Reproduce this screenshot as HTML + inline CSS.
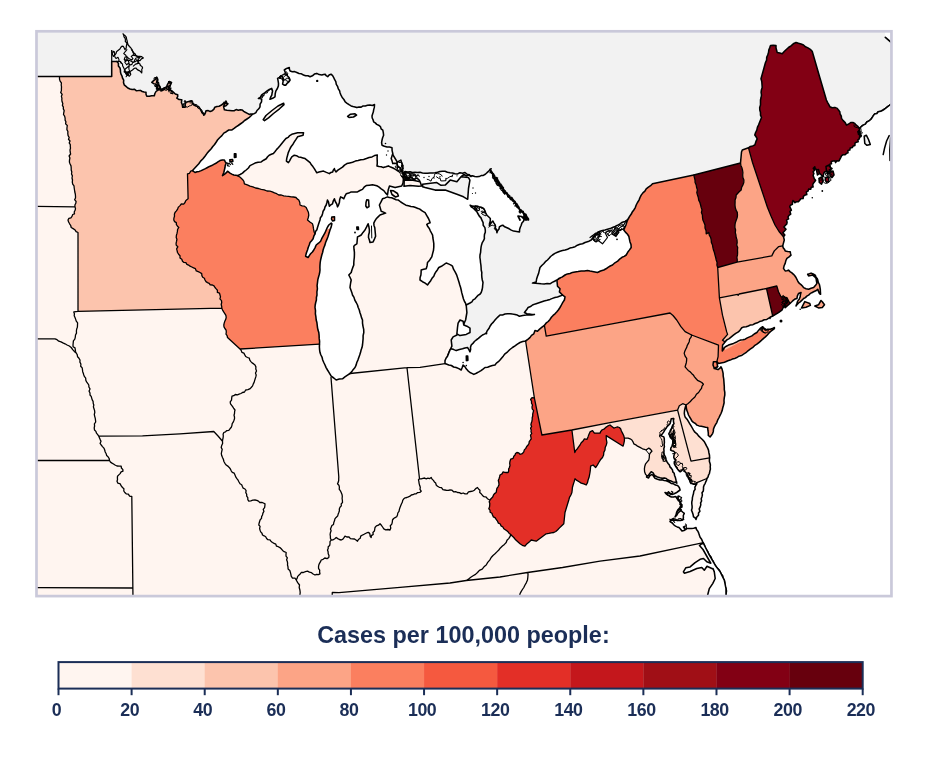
<!DOCTYPE html>
<html lang="en"><head><meta charset="utf-8"><title>Cases per 100,000 people</title>
<style>html,body{margin:0;padding:0;background:#fff}body{width:928px;height:760px;overflow:hidden;position:relative;font-family:"Liberation Sans",sans-serif}svg{position:absolute;left:0;top:0;display:block}.b{fill:none;stroke:#000;stroke-width:1.3;stroke-linejoin:round;stroke-linecap:round}.w{fill:#fff;stroke:#000;stroke-width:1.55;stroke-linejoin:round}.t{font-family:"Liberation Sans",sans-serif;font-weight:700;fill:#1b2e57}</style></head><body>
<svg width="928" height="760" viewBox="0 0 928 760">
<defs><clipPath id="c"><rect x="36.5" y="31.3" width="854.95" height="564.8000000000001"/></clipPath></defs>
<g clip-path="url(#c)">
<rect x="30" y="25" width="870" height="580" fill="#fff5f0"/>
<path id="MN" fill="#fcc4ad" d="M59.5,77 59.5,79.1 60.1,81.1 61.4,82.9 61.2,85 61.5,86.9 61.4,88.8 61.4,90.6 60.7,92.5 62.2,94.3 61.4,96.3 61.9,98.1 61.8,100 62.1,101.8 62.8,103.5 62.4,105.4 63.4,107.1 63.3,108.9 64.2,110.6 63.8,112.5 63.5,114.5 64.6,116.2 65.1,118.1 65.1,120.1 65.9,121.8 65.6,123.9 67.3,125.5 67,127.5 66.9,129.6 67.9,131.5 67.8,133.6 68.1,135.7 69.2,137.5 68.5,139.3 70,141 69.2,142.9 70.3,144.6 70.3,146.4 70.5,148.2 70,150 70.2,152 70.6,154 69.1,156 69.9,158 69.5,160 69.4,162.1 70.1,164 71,165.9 71.2,167.9 71.2,170 71.8,172 71.5,174 72.4,175.9 72,178 72.5,180 72.3,182.1 72.7,184.1 74,185.9 74.2,188 74.5,190 74.8,192 75.3,194 75.5,196 75.5,198 74.6,199.7 76.1,201.5 75.8,203.3 74.9,205 75,206.8 75.5,208.6 75.1,210.3 74.2,212 74.5,213.8 72.7,214.5 72,216.4 70.9,217.8 68.9,218.3 68,220 68.6,222 69.6,223.8 70.7,225.5 71.2,227.5 73.1,228.6 74.8,229.7 76.1,231.6 78,232.5 78,311.4 221.8,308.2 221.7,306.3 221.2,304.5 221.7,302.5 221.5,300.6 219.9,298.9 220.5,296.9 220,295 219.5,293.2 217.4,292.4 217.4,290.2 216.2,288.9 215,287.5 214,285.8 212.4,285 210.2,284.9 209.2,283.3 207.5,282.6 206,281.6 205,280 204.4,278.2 202.7,277.2 201.9,275.6 201.7,273.6 200,272.5 198.2,271.6 196.3,270.9 195.4,268.7 193.6,267.9 191.8,267 190,266.2 188.6,265.1 186.9,264.3 185.9,262.7 183.9,262.4 182.5,261.2 181.8,259.3 180,258 180,255.7 178.6,254.2 177.5,252.5 177.1,250.6 176.6,248.8 177.8,246.8 176.2,245.1 176.1,243.2 176.6,241.2 176.9,239.3 176.2,237.5 176.4,235.4 177,233.4 177.4,231.4 177.6,229.3 178.8,227.5 177.5,226.2 176.4,224.7 176.3,222.6 174.6,221.6 173.8,220 173.9,218.1 174.5,216.3 174.4,214.3 175,212.5 176.4,210.9 177.6,209.1 178.4,207.1 180,205.6 181.3,204 183.7,204.1 185,202.5 185.6,200.9 186.8,199.7 188.1,198.8 187.5,173.8 189.5,173.3 190.6,171.2 192.5,170.6 260,120 260,40 100,40 59.5,60Z"/>
<path id="WI" fill="#fb7f5f" d="M192.5,170.6 190.6,171.2 189.5,173.3 187.5,173.8 188.1,198.8 186.8,199.7 185.6,200.9 185,202.5 183.7,204.1 181.3,204 180,205.6 178.4,207.1 177.6,209.1 176.4,210.9 175,212.5 174.4,214.3 174.5,216.3 173.9,218.1 173.8,220 174.6,221.6 176.3,222.6 176.4,224.7 177.5,226.2 178.8,227.5 177.6,229.3 177.4,231.4 177,233.4 176.4,235.4 176.2,237.5 176.9,239.3 176.6,241.2 176.1,243.2 176.2,245.1 177.8,246.8 176.6,248.8 177.1,250.6 177.5,252.5 178.6,254.2 180,255.7 180,258 181.8,259.3 182.5,261.2 183.9,262.4 185.9,262.7 186.9,264.3 188.6,265.1 190,266.2 191.8,267 193.6,267.9 195.4,268.7 196.3,270.9 198.2,271.6 200,272.5 201.7,273.6 201.9,275.6 202.7,277.2 204.4,278.2 205,280 206,281.6 207.5,282.6 209.2,283.3 210.2,284.9 212.4,285 214,285.8 215,287.5 216.2,288.9 217.4,290.2 217.4,292.4 219.5,293.2 220,295 220.5,296.9 219.9,298.9 221.5,300.6 221.7,302.5 221.2,304.5 221.7,306.3 221.8,308.2 222.6,310.1 223.7,311.9 224.8,313.6 225.9,315.4 226.2,317.5 225.7,319.4 224.8,321.2 224.2,323.1 223.8,325 224,326.9 224.9,328.5 226.1,330.1 226.3,332 226,334.1 227.1,335.7 227.5,337.5 240,349 319.5,344.2 335,344 340,225 315,233.8 314.2,232.2 313.8,230.5 313.4,228.2 313.1,226 312.5,223.8 309.9,222 307.5,220 308.3,217.5 308.8,215 308.4,212.3 307.3,209.9 306.2,207.5 304.4,206.2 302.1,205.8 300,205 299.8,202.4 298.8,200 297.2,198.9 296,197.5 293.6,197 291.1,196.9 288.7,196.3 286.2,196.2 283.7,195.9 281.3,195 278.8,195 276.7,193.7 274.5,192.9 272.3,191.8 270,191.2 267,191 264.2,189.8 261.2,189.4 258.5,188.5 255.6,188 252.9,186.8 250,186.2 247.3,184.9 244.4,183.8 243.9,181.4 242.5,179.4 240.2,177.3 237.5,175.6 225,155 200,168Z"/>
<path id="NY" fill="#fb7f5f" d="M544.4,325.4 546.2,336.2 616,323.1 670,313 673,315.5 676.7,320 680.9,326.7 685.1,331.7 691.6,335 718.5,345.1 718.1,356.7 716.8,361.8 718,366 780,335 775,320 726,344 725,341.9 722.5,340.2 727.6,334.4 726.7,331.9 722.5,315.2 719.4,297.8 717.7,267.5 716.9,265.1 717.1,262.4 716.2,260 715.7,257.5 715,255 714.4,252.5 713.5,250.1 712.9,247.6 712.5,245 711.4,242.6 711.2,239.9 710.6,237.4 709.3,235.1 708.8,232.5 706.2,233.8 706.1,230.8 705,228 705,225 704,222.5 702.9,220.1 702.5,217.5 702.4,215 701.4,212.6 702,209.9 701.2,207.5 700.6,205 699.9,202.5 698.7,200.1 698.3,197.5 697.5,195 696.8,192.6 697.4,189.9 696.6,187.5 696.2,185 695.1,182.6 695,180 694.4,177.5 693.8,175 652,183 620,215 560,250 540,300Z"/>
<path id="PA" fill="#fca486" d="M691.6,335 685.1,331.7 680.9,326.7 676.7,320 673,315.5 670,313 616,323.1 546.2,336.2 544.4,325.4 535,325 520,335 525.6,341 531.6,380 534.4,398.1 541.9,435 571.9,430 610,422.6 677.6,410.1 679.3,405.8 682.7,403.7 686,405 688.1,403.4 690.1,401.8 691.6,400 693.3,398.4 695.1,396.8 696.4,394.3 698.6,392.5 700.1,390.2 701.5,388.4 702,386.1 703.4,384.3 701.8,382.5 699.7,381.4 697.5,380.3 695.9,378.5 694.5,376.8 693.3,374.9 691.6,373.4 690.1,371.8 688.2,370.4 686.6,368.6 685.1,366.8 685.7,364.7 686.3,362.7 686.6,360.6 686.7,358.4 685.1,356.1 684.2,353.4 684.8,351.3 685.7,349.3 686.7,347.4 687.3,345.3 688.4,343.4 689.3,341.4 689.6,339.1 691.1,337.2 691.6,335Z"/>
<path id="NJ" fill="#fca486" d="M691.6,335 691.1,337.2 689.6,339.1 689.3,341.4 688.4,343.4 687.3,345.3 686.7,347.4 685.7,349.3 684.8,351.3 684.2,353.4 685.1,356.1 686.7,358.4 686.6,360.6 686.3,362.7 685.7,364.7 685.1,366.8 686.6,368.6 688.2,370.4 690.1,371.8 691.6,373.4 693.3,374.9 694.5,376.8 695.9,378.5 697.5,380.3 699.7,381.4 701.8,382.5 703.4,384.3 702,386.1 701.5,388.4 700.1,390.2 698.6,392.5 696.4,394.3 695.1,396.8 693.3,398.4 691.6,400 690.1,401.8 688.1,403.4 686,405 687,412 692,424 703,434 709,442 728,440 728,372 716.8,361.8 718.1,356.7 718.5,345.1 691.6,335Z"/>
<path id="DE" fill="#fee0d2" d="M677.6,410.1 679.3,405.8 682.7,403.7 686,405 687,412 692,424 703,434 712,445 715,458 709.6,457.8 691,461.2 677.6,410.1Z"/>
<path id="MD" fill="#fee0d2" d="M571.9,430 574.8,452.5 575.8,450.4 577.4,448.7 578.6,446.8 580,445 581.2,442.8 583.1,441 584.4,438.8 586.9,439.4 588,436.9 588.9,434.4 590,431.9 592.5,430.6 594.4,433.1 597.2,433.1 600,433.1 600.8,431.4 601.9,430 604.4,428.8 605.8,427.4 607.5,426.2 610,425 611.9,426.5 613.8,428.1 615.6,427.5 617.5,426.9 619.3,427.5 620.6,428.8 621.4,431 622.5,433.1 623.7,435.5 624.4,438.1 626.2,438.1 628.1,438.1 630.1,438.8 631.9,440 633,441.8 633.8,443.8 635.8,444.8 637.5,446.2 640,447.4 642.5,448.8 644.4,449.3 646.2,450 647.4,449 648.8,448.1 650.6,449.4 651.9,451.2 650.4,452.7 649.4,454.6 649.3,457.3 648.8,460 647.2,461.9 645.6,463.8 644.8,466.2 644.4,468.8 644.6,471.7 645.6,474.4 647,475.8 660,478 680,486 696.9,482.7 706.9,478.5 720,470 709.6,457.8 691,461.2 677.6,410.1 610,422.6 571.9,430Z"/>
<path id="WV" fill="#e32f27" d="M490,500 491.2,498.5 492.7,497.1 493.4,495.2 494.5,493.6 496.2,492.5 496.5,490.4 496.9,488.4 498.2,486.6 499,484.7 498.8,482.5 498.3,480.5 499,478.7 499.6,476.9 500,475 502,473.9 503.1,471.9 504.7,472.3 506.4,472.5 508.1,472.5 508.7,470.9 508.6,469.1 509.4,467.5 510,465.4 509.7,463.3 510,461.2 510.7,459.2 513.1,458.4 513.8,456.2 515,455.1 515.5,453.5 516.9,452.5 518.8,452.9 520,454.4 522.2,453.7 523.8,451.9 524.3,449.9 525.8,448.4 526.7,446.5 528.1,445 529,443.5 529.2,441.6 530.3,440.2 531.2,438.8 530.9,437 530.5,435.2 531.7,433.5 531,431.8 531.2,430 530.6,428.2 531.6,426.5 530.9,424.7 531.3,423 531.9,421.2 532.2,419.5 532.2,417.7 532.7,416 532.7,414.2 533.1,412.5 533.6,410.6 532.2,408.8 532,406.9 532.5,405 531.5,403.2 531.5,401.2 530.6,399.4 532,397.6 534.4,398.1 541.9,435 571.9,430 574.8,452.5 575.8,450.4 577.4,448.7 578.6,446.8 580,445 581.2,442.8 583.1,441 584.4,438.8 586.9,439.4 588,436.9 588.9,434.4 590,431.9 592.5,430.6 594.4,433.1 597.2,433.1 600,433.1 600.8,431.4 601.9,430 604.4,428.8 605.8,427.4 607.5,426.2 610,425 611.9,426.5 613.8,428.1 615.6,427.5 617.5,426.9 619.3,427.5 620.6,428.8 621.4,431 622.5,433.1 623.7,435.5 624.4,438.1 624.4,440.9 623.8,443.6 623.1,446.2 606.2,435.6 606.3,439.1 606.9,442.5 606.3,445 605.2,447.4 605,450 603.8,452.4 603.6,455.1 602.5,457.5 600.4,459.8 598.8,462.5 597.3,465.1 595.6,467.5 593.1,465 590.6,466.2 590.4,469.4 590,472.5 589.5,475.1 589,477.6 588.1,480 587.5,482.6 586.2,485 583.8,483.9 581.2,483.1 579.1,481.7 576.9,480.4 575,478.8 574.1,481.9 573.1,485 572.4,487.5 572.2,490 571.9,492.5 570.9,495 569.5,497.4 568.8,500 565,512.5 563.8,523.8 561.7,525.8 559.5,527.9 557.5,530 555.8,531.5 553.8,532.5 551.2,532.9 548.8,533.4 546.2,533.8 536.2,541.2 533.8,540.6 531.2,540 529.2,542.1 526.8,543.9 525,546.2 522.3,545.3 520,543.8 517.8,541.8 515.6,539.8 513.8,537.5 512.2,536.1 510.8,534.5 509.2,533.5 508.2,531.9 506.8,530.8 505.3,529.7 503.8,528.8 502.9,527 501,525.9 500.3,524 498.4,523.1 497.5,521.2 496.3,519.7 495.3,517.9 493.4,516.9 492.5,515 491.9,513.2 490.1,512.2 490,510.1 488.8,508.8 489.5,507.1 489.7,505.3 489.8,503.5 489.2,501.7 490,500Z"/>
<path id="VT" fill="#67000d" d="M693.8,175 694.4,177.5 695,180 695.1,182.6 696.2,185 696.6,187.5 697.4,189.9 696.8,192.6 697.5,195 698.3,197.5 698.7,200.1 699.9,202.5 700.6,205 701.2,207.5 702,209.9 701.4,212.6 702.4,215 702.5,217.5 702.9,220.1 704,222.5 705,225 705,228 706.1,230.8 706.2,233.8 708.8,232.5 709.3,235.1 710.6,237.4 711.2,239.9 711.4,242.6 712.5,245 712.9,247.6 713.5,250.1 714.4,252.5 715,255 715.7,257.5 716.2,260 717.1,262.4 716.9,265.1 717.7,267.5 737.1,262.2 737.3,259.8 736.9,257.3 737.5,254.9 737.6,252.4 737.5,250 737.7,247.5 736.7,245 737.2,242.5 737,239.9 736.2,237.5 735.9,235 735.3,232.6 735.6,230 734.9,227.5 735,225 735.4,222.4 736.3,220 737.2,217.6 737.5,215 737.3,212.4 736,210.1 735.3,207.6 735,205 735.1,202.5 735.1,199.9 736,197.5 736.2,195 737.8,193.2 739.4,191.5 741.2,190 741.6,187.4 742.9,185 743.8,182.5 743.9,180 742.9,177.5 742.7,175 742.9,172.5 742.5,170 741.9,167.7 740.9,165.4 740.5,163 740,150 690,165Z"/>
<path id="NH" fill="#fca486" d="M740.5,163 740.9,165.4 741.9,167.7 742.5,170 742.9,172.5 742.7,175 742.9,177.5 743.9,180 743.8,182.5 742.9,185 741.6,187.4 741.2,190 739.4,191.5 737.8,193.2 736.2,195 736,197.5 735.1,199.9 735.1,202.5 735,205 735.3,207.6 736,210.1 737.3,212.4 737.5,215 737.2,217.6 736.3,220 735.4,222.4 735,225 734.9,227.5 735.6,230 735.3,232.6 735.9,235 736.2,237.5 737,239.9 737.2,242.5 736.7,245 737.7,247.5 737.5,250 737.6,252.4 737.5,254.9 736.9,257.3 737.3,259.8 737.1,262.2 771.8,255.9 774.3,250.9 778.5,246.7 782.7,245.9 790,245 790,237 783.5,236.7 779,231.5 775,225 771,216 767.5,207.5 760,185 752.5,162.5 748.5,147.8 745,140 738,150Z"/>
<path id="ME" fill="#820014" d="M748.5,147.8 752.5,162.5 760,185 767.5,207.5 771,216 775,225 779,231.5 783.5,236.7 800,240 870,140 870,40 750,40 740,150Z"/>
<path id="MA" fill="#fca486" d="M717.7,267.5 719.4,297.8 737.5,294.3 738.2,295.3 739,294 766.5,288.5 776.8,286 778.5,291.8 781,296.8 783.5,296.8 786.9,297.6 790,303.5 795,312 830,310 830,260 795,240 782.7,245.9 778.5,246.7 774.3,250.9 771.8,255.9 737.1,262.2 717.7,267.5Z"/>
<path id="CT" fill="#fcc4ad" d="M719.4,297.8 737.5,294.3 738.2,295.3 739,294 766.5,288.5 772.7,316 772,325 725,350 725,341.9 722.5,340.2 727.6,334.4 726.7,331.9 722.5,315.2 719.4,297.8Z"/>
<path id="RI" fill="#67000d" d="M766.5,288.5 772.7,316 775,322 795,305 790,303.5 786.9,297.6 783.5,296.8 781,296.8 778.5,291.8 776.8,286 766.5,288.5Z"/>
<path id="canada" fill="#f2f2f2" stroke="#000" stroke-width="1.55" stroke-linejoin="round" d="M30,25 900,25 900,100 898.2,101.4 896.1,102.3 894.1,103.4 891.9,104 889.9,105 887.7,106.7 885.5,108.4 883.2,110 880.8,111.2 878.2,111.7 876.9,113.5 874.5,114.1 873.2,115.9 872,117.8 870.8,119.5 869,120.9 866.8,122 865.4,124.1 863.2,125.1 861.2,126.7 859.5,128.5 857.5,126 856,124.9 854.8,123.4 852.9,122.5 850.7,122.5 848.7,124 846.5,125.1 845.2,122.6 843.2,120.6 841.5,118.4 841.3,116.1 840.1,114 839.8,111.7 838.5,110.1 837.3,108.4 834.9,107.4 832.2,107.8 829.8,106.7 828.7,104.4 827.5,102.3 826.4,100 819.8,77.5 812.2,51.2 810.3,49.4 808,47.9 805.5,46.8 803.5,45 801.1,44 798.5,43.3 796,42.5 793.3,43.8 791,45.8 788.5,47.5 786.3,49.5 784.2,51.5 782.2,53.8 779.8,53.1 777.2,52.5 776.6,50.2 776,47.9 776,45.5 773.2,45.2 770.5,45.5 769.7,47.8 768.8,50.1 768.5,52.5 767.7,55 766.7,57.4 766.6,60.1 765.5,62.5 764.8,65 761,78.8 761.8,81.6 762,84.6 762.2,87.5 761.4,89.9 761.1,92.4 761.5,95 761.1,97.5 760.5,100 760.5,102.5 760.5,105 759.7,107.5 759.8,110 760.5,112.5 760.5,115.1 761.5,117.5 760.5,120 759.5,122.5 758.5,125 757.4,127.4 756.8,130.1 755.6,132.5 754.8,135 756.1,136.8 757.2,138.8 756.2,140.8 755.5,142.9 754.8,145 752.7,145.9 750.4,146.4 748.5,147.8 742.3,150 741.5,152 740.5,163 693.8,175 652.5,183.8 650.6,185.7 648.4,187.2 646.2,188.8 644.9,191.1 642.9,192.9 641.2,195.1 640,197.5 639,200.1 637.5,202.5 636.2,205 635.3,207.6 633.8,210 632.3,211.9 631.3,214.1 629.9,215.9 628.7,218 627.5,220 600,250 556.9,280 557.5,286.2 560,288.8 559.4,291.9 562.5,295 540,320 470,360 447.5,356.2 450,350 451.9,346.2 451.2,340 453.1,336.9 456.9,335 460,330 463.5,325 463.8,323.8 465.6,320 466.9,312.5 466.2,305 455,240 420,195 403.5,178 403,175 402.6,170.9 390,150 300,110 252.5,114.3 251,113.9 249.5,114.5 247.4,113.4 245.3,112.3 243.7,111.4 242.3,110 240.3,109.8 238.3,110.3 236.1,109.6 234.1,110.7 232,110.7 229.5,110.4 226.9,110.2 224.4,109.8 224,108.1 223.6,106.5 226,105.7 227.8,104 226.7,102.9 226.1,101.5 224.8,103.2 222.8,104 221,105.3 219.1,106.2 216.9,106.5 214.8,107.2 213.8,109.3 212.2,110.7 210.2,111.5 208.2,110.6 206,110.7 205.4,112.9 204.4,114.9 202.3,113.1 201,110.7 199.9,108.5 198.5,106.5 195.9,106 193.5,104.8 192.1,103 191.9,100.7 189.9,101.2 187.9,101.7 186,102.3 185.1,104.7 185.2,107.3 182.7,107.3 182.3,104.8 181.4,102.4 181.8,99.8 179.1,99.6 176.8,98.2 177.7,96.6 177.7,94.8 175.3,94 173.5,92.3 171.8,90.9 169.9,89.7 168.5,88 170.1,86.5 170.4,84.3 171.5,82.5 169.3,81.5 168.1,83.4 167.1,85.4 166,87.3 164.2,88 162.6,88.9 161,89.8 160.2,87.7 158.9,86 158,84 157.6,81.8 157.8,79.4 156.8,77.3 155.4,79.3 153.6,80.7 151.8,82.3 153.7,83.7 156,84 157.3,85.7 157.1,88.1 158.5,89.8 157.2,90.6 156,91.5 154.9,93.5 154.3,95.7 151.8,95.7 149.3,96.3 146.8,96.2 146,94.3 146,92.3 144.1,92 142.2,91.5 140.4,90.4 138.4,90.6 136.2,90.7 134.3,89.2 132.1,89.4 130,89 127.8,88 126,86.4 124.2,84.8 123.5,82.6 123.7,80.1 122.5,78 122,76 121,74.1 120.5,72.1 120.4,70 120,68 118.4,66 118.4,63.3 116.7,61.4 111.7,61.4 111.7,76.5 30,76.5Z"/>
<path id="superior" class="w" d="M252.5,114.3 254.3,113.6 255.9,112.6 257,110.5 258.8,108.8 260,106.8 260.1,104.2 261.5,101.9 261.7,99.3 260.1,98.6 258.4,98.4 260.3,97.3 261.5,95.2 263.1,93.8 265,92.6 267.1,90.9 269.3,89.5 271.7,88.4 272.6,90.9 272.1,93 271.8,95.2 270.6,97.2 270,99.3 272.6,98.3 275,96.8 275.2,93.8 275.9,90.9 277.4,88.5 278.4,85.9 278.5,83.4 278.1,80.9 277.6,78.4 279.4,77.4 280.9,75.9 282.3,77 283.4,78.4 283.1,81.3 282.6,84.2 284.1,85.1 285.9,85.1 287.1,83.3 288.9,81.9 290.1,80.1 289.2,77.8 287.6,75.9 286.2,74.1 285.2,72.1 284.3,70 286.6,68.4 289.3,67.5 289.4,69.3 290.1,70.9 292.3,71.7 294.7,71.6 296.8,72.5 299,73.5 301.4,73.8 303.5,75 305.6,75.8 308,75.7 310.1,76.7 312.4,75.8 314.4,74.1 316.8,73.4 319.2,74.6 321.8,75 323.5,74.4 325.2,74.2 326.2,75.7 327.7,76.7 329.1,75 331,74.2 332.6,75.6 333.6,77.3 334.4,79.2 335.8,81.6 336.3,84.3 337.7,86.7 338.3,88.9 339.6,90.8 340.1,93 341,95.1 342.2,97.5 343.9,99.5 345.2,101.8 347.1,103.3 349,104.7 351.1,105.9 353,106.5 355,106.9 356.9,107.6 359,107.1 361.2,107.1 363.1,105.9 365.3,105.9 367.5,105.2 369.9,105 372.3,105.4 374.5,104.6 374.3,107.4 373.6,110.1 373.3,112.1 372.6,114 372,116 372.2,118 373.1,119.8 373.6,121.8 375.3,122.9 376.7,124.4 378.6,125.2 380.4,126.6 381.1,128.8 382.8,130.2 383.3,132.7 383.6,135.2 382.6,137.7 382,140.2 381.6,142.7 382,145.2 384.4,146.3 387,146.9 389.5,147.1 392,147.7 392.1,150.6 392.8,153.5 392,156.1 391.2,158.6 392.1,161.1 392.8,163.6 394.7,163.2 396.7,163.4 398.6,161.4 400.9,160.1 401.6,162.6 402.6,165.1 402.8,168 402.6,170.9 400.3,171.1 398,171 395.5,169.4 393,168 390.6,167.1 388.4,165.9 385.9,166.8 383.4,167.6 381.3,166.8 379.1,166.6 377,165.9 377.3,163.2 377.2,160.4 377.1,157.7 377.3,154.9 374.5,155.6 372,156.9 369.1,157.5 366.4,158.5 363.6,159.4 360.8,159.8 358.1,160.6 355.3,161.1 352.6,162.2 349.7,162.9 346.9,163.6 344.5,165.1 342.5,167.1 340.2,168.6 337.9,170.1 336,171.9 334.9,170.4 334.4,168.6 333.3,170.1 332.7,171.9 330.9,172.4 329.4,173.6 326.4,172.4 323.5,171.1 321.2,171.6 319,172.1 316.8,172.8 315.5,170.7 314.3,168.6 312.9,166.6 311.4,164.8 310.1,162.7 307.6,160.6 305.1,158.6 302.9,157.9 300.7,157.3 298.5,156.9 296.5,155.7 294.3,155.2 291.8,156.9 290.6,158.8 289.6,160.8 288.4,162.7 286.4,161.1 286.8,158.1 287.6,155.2 288.2,152.9 289.1,150.7 290.1,148.5 291.4,146.2 293,144.2 294.3,141.9 296,139.4 297.6,136.8 300.3,135.9 303.1,135.2 303.5,132.7 300.6,132.8 297.6,132.7 294.7,133.5 291.8,134.3 289.7,135.6 288.1,137.4 285.9,138.5 283.8,141 281.8,143.5 280.2,145.5 278.5,147.5 276.7,149.4 275.1,151.5 273.4,153.5 271.3,154.3 269.2,155.2 267.6,156.8 266.2,158.8 263.6,160.2 261.2,161.9 258.1,162.2 255,163.1 252.5,164.4 250,165.6 248.4,168 246.2,170 244.3,171.4 242.5,173.1 240.1,174.5 237.5,175.6 235.6,175.3 233.8,175 231.8,174.1 230,173.1 227.5,171.2 226.4,172.7 225,173.8 222.5,175.6 223.8,172.5 224.4,170 225,167.5 225.3,165.2 226.2,163.1 225.2,161.7 224.4,160 222.2,159.9 220,160.6 217.9,161.9 215.9,163.3 213.8,164.4 211.7,165.6 209.5,166.4 207.5,167.5 205.4,168.6 203.3,169.6 201.2,170.6 199.2,171.4 197,171.7 195,172.5 192.5,170.6 194.6,168.3 196.7,166 198.8,163.8 200.6,161.1 203,158.8 205,156.2 206.9,153.6 209,151.1 211.2,148.8 212.8,146.5 214.6,144.5 216.1,142.3 217.5,140 219.6,137.7 221.9,135.6 223.8,133.1 226.3,131.7 228.8,130 232,129.9 234.1,128.4 236.1,126.8 238.2,125.5 240.3,124 242.6,122.4 244.6,120.5 247,119 249,117.7 250.8,116 252.5,114.3Z"/>
<path id="michhuron" class="w" d="M387.5,195 385.5,192.9 383.8,190.6 381.2,188.8 378.8,186.9 376.8,185.8 374.7,185.2 372.5,184.8 369.4,185.2 366.2,185.6 364.1,187.2 362.5,189.4 359.9,190.5 357.5,191.9 354.4,191.9 351.2,191.9 348.8,193.1 346.2,193.8 344.9,196.2 343.8,198.8 342.3,197.7 340.6,196.9 339.7,199.6 339.4,202.5 338.6,204.8 337.5,206.9 336.8,204.1 335.3,201.5 334.4,198.8 333.2,201.2 332.5,203.8 330.8,204.8 329.4,206.2 328.9,204.1 328.5,202 327.5,200 326.9,202.5 326.2,205 325,207 324.4,209.3 323.1,211.2 322.6,213.5 321.9,215.8 320.4,217.7 320,220 319.1,222.5 318.3,225 317.5,227.5 316.9,229.7 315.5,231.5 315,233.8 313.8,236.2 313.1,238.8 311.6,240.7 310,242.5 309.2,245 308.2,247.5 307.5,250 306.3,253.1 305.6,256.2 308.1,257.5 309.3,255.6 310.6,253.8 312.4,252 313.8,250 315.1,247.6 316.2,245 318.5,243.2 320.6,241.2 321.7,238.7 323.1,236.2 324.8,233.2 326.2,230 327.4,227.4 328.8,225 331.2,223.1 331.9,223.8 331.2,226.9 330,230 329.1,233.1 328.1,236.2 326.9,239.4 325.6,242.5 324.9,245.1 323.9,247.5 323.1,250 322.6,252.5 321.8,255 321.2,257.5 320.6,260 320.2,262.5 320,265 319.9,267.5 320,270 319.7,272.5 319.1,275 318.4,277.5 317.8,279.9 317.5,282.5 317.1,285.6 317.4,288.8 316.9,291.9 317,295 316.4,297.5 316.4,300 315.7,302.5 315.2,305 315,307.5 315.5,310.6 315.4,313.8 315.9,316.9 316.2,320 316.9,322.5 317.2,325 317.5,327.6 318,330.1 318.8,332.5 319.1,335.4 319.2,338.4 319.6,341.3 319.5,344.2 319.4,347 319.6,349.8 320,352.5 320.9,355 322.1,357.4 322.7,360 323.8,362.5 325,365 326.1,367.6 327.5,370 328.8,372.1 330,374.2 331.2,376.2 333.8,378 336.2,380 339.3,379.1 342.5,378.8 344.9,376.9 347.5,375.2 350,373.5 351.8,371.6 353.3,369.4 355,367.5 356.1,365.1 356.8,362.5 357.9,360.1 358.8,357.5 359.7,355.1 360.5,352.6 361.1,350 362,347.6 362.5,345 362.8,341.9 363.1,338.8 363.1,335.6 363.8,332.5 363.7,329.4 363,326.3 362.5,323.1 362.5,320 361.5,317.6 360.8,315 359.9,312.5 359.3,310 358.2,307.5 357.5,305 356.2,302.5 354.8,300.1 354,297.4 352.5,295 351.8,292.4 350.9,290 350,287.5 350.3,285 350.7,282.5 351.2,280 350.1,277.5 348.8,275 351.2,272.5 351.9,270 352.8,267.4 353.8,265 353.8,262.5 354,260 354.3,257.5 354.4,255 354.4,252.1 354,249.2 353.8,246.2 355.2,244.8 356.9,243.8 357.2,240.3 357.5,236.9 359.4,236 361.2,235 363,232.4 365,230 366.6,226.9 368.1,223.8 368.9,226.8 369.4,230 369.3,232.5 368.6,235 368.5,237.5 369.4,240 370,242.5 373.1,241.9 374.4,239.1 375.6,236.2 375.3,233.1 375,230 374.8,227.7 374,225.4 373.8,223.1 374.9,220.9 376.2,218.8 378.1,216.9 380,215 382.8,214.1 385.6,213.1 383.5,212.1 381.2,211.2 380.3,208.1 379.4,205 381,201.9 382.5,198.8 385,197.9 387.5,196.9 389.5,197.6 391.7,197.8 393.9,198.7 396.1,199.7 398.4,200.1 400.8,202 403.3,203.6 405.9,205.2 408.4,205.8 410.9,206.5 413.4,206.8 415.6,207.6 417.9,208.4 420.1,209.3 422.5,211.2 425.1,212.7 426.8,215.6 428.5,218.5 429.4,220.6 430.1,222.7 428.4,223.4 426.8,224.4 427.8,226.6 429.3,228.5 430.3,230.8 431.5,233 432.6,235.2 432.9,238 433.4,240.8 433.8,243.6 433.8,247 433.5,250.3 432.6,253.6 431.8,256.9 430.5,258.8 429.2,260.8 427.5,262.5 427.1,265.7 426.2,268.8 423.7,269.3 421.2,270 421.1,272.5 420.9,275 420.1,277.5 420,280 422.5,281.7 425.2,283.1 427.5,285 429.1,282.8 430.7,280.7 432,278.3 433.8,276.2 434.7,273.9 436,271.7 437.5,269.7 438.8,267.5 441.4,266.3 443.9,264.7 446.2,263 448.4,263.9 450.6,264.9 452.5,266.2 453.5,269.2 455.1,271.8 456.5,274.6 457.5,277.5 458.3,280 459.1,282.5 459.8,285 460.6,287.5 461.2,290 461.8,292.9 462.6,295.8 463.4,298.7 464.5,301.5 465.5,303.2 466.2,305 468.1,304 470,303 471.9,301.8 473.1,299.9 475,298.8 476.5,297.1 477.9,295.4 479.9,294.3 481.2,292.5 482,290.1 482.5,287.6 482.7,285 483,282.5 482.3,280 481.9,277.6 481.7,275 481.8,272.5 481.2,270 481.1,267.5 480.9,265 480.5,262.5 480.3,260 479.9,257.5 480,255 480.6,252.3 480.8,249.6 481.1,246.9 481.6,244.7 482.3,242.6 483.5,240.7 484.4,238.6 484.3,236.5 484.5,234.4 485.3,232.3 485.3,230.2 484.9,227.6 483.2,225.3 483.1,222.6 481.9,220.2 481,217.9 479.3,216.1 478.1,214 476.9,211.8 475.3,210.1 473.6,208.4 471.6,207.2 470.2,205.2 472.2,206.1 474.3,206.3 476.6,206.1 478.6,206.8 481.2,207.3 483.6,208.5 484.9,210.7 485.8,213 486.9,215.2 488.6,216.8 490.3,218.5 490.3,221 489.5,223.5 489.4,226 490.3,224.2 491.4,222.5 492.8,221 494,223.1 495.3,225.2 495.4,227.8 496.8,230.1 496.9,232.7 497.6,230.7 499,229 499.4,226.9 501,225.8 502.8,225.2 504.7,226.8 507,227.7 509.2,228.8 511.3,230.1 513.6,231.1 516.6,231.4 519.5,231.9 519.6,229.6 520.3,227.3 521.2,225.2 521.9,223 523.5,221.2 524.2,219.1 525,216.9 526.7,218.5 528.5,220 527.7,218.1 526.7,216.4 526,214.5 523.9,213.3 522.3,211.6 520.3,210.2 518.7,208.4 517,206.8 516.3,204.4 514.8,202.3 513.6,200.1 510.9,198.8 508.6,196.8 507.3,194.3 505,192.5 503.6,190.1 502.2,188.1 501.1,186 499.4,184.3 498,182.5 497.5,180.2 496.1,178.4 494.1,177.1 492.8,175.1 492.4,173 491,171.3 490.3,169.3 488.8,171.2 487,172.7 485.3,174.3 483.3,175.4 481.1,175.6 479.1,176.6 476.9,176.8 474.7,176.6 472.5,175.8 470.2,175.9 468.4,174.9 466.6,173.8 465,172.5 462.6,173.3 459.9,172.7 457.6,173.9 455,173.8 452.5,173.1 450,172.7 447.4,172.2 445,171.2 442.5,171.2 440,171.5 437.5,172.2 435,172.7 432.5,173.1 430,173 427.5,173.3 425,173.2 422.5,172.9 420,172.3 417.5,172.5 415,172.3 412.5,172.5 410,171.8 407.5,172 405,171.5 404.1,173.6 404.1,175.8 403.5,178 403,183 401.7,186 395.1,187.6 389.5,186 388.2,190 387.5,195Z"/>
<path id="lstclair" class="w" d="M463.1,321.2 460,320 458.1,323.1 457.5,327.5 456.9,333.8 460,335.6 466.2,334.4 470,332.5 470,328.1 466.9,326.2 463.8,325Z"/>
<path id="erie" class="w" d="M445,363.6 445,360.6 446,358.3 447.5,356.2 448.7,353.1 450,350 451.2,348.8 453.8,349.6 456.2,350.6 459.4,349.6 462.5,348.8 465,348 467.5,347.5 468.9,349.6 470,351.9 470.6,349.6 470.5,347.2 471.2,345 472.9,343.4 474.4,341.5 476.2,340 478.4,338.4 480.4,336.6 482.5,335 484.4,334.1 486.2,333.1 487.2,330.7 488.9,328.6 490,326.2 491.5,324 493.4,322.1 495,320 496.6,318.2 498.3,316.6 500,315 502.6,314.9 505,314.1 507.5,313.8 510,313.7 512.5,314.1 515,314.4 517.3,315.1 519.4,316.2 522.8,315.5 526.2,315 529,315 531.7,314.9 534.4,314.4 531.9,314.5 529.4,314 526.9,313.8 524.4,312.5 526.4,310.1 528.1,307.5 530.5,306.6 532.5,305 535.4,303.9 538.3,302.9 541.2,301.9 544.1,300.9 547.1,300.3 550,299.4 552.5,298.4 554.9,297.5 557.5,296.9 560.1,296.1 562.5,295 565,296.9 564.4,300 562.8,302.4 561.4,305 560,307.5 558.5,309.7 556.9,311.8 555,313.8 553.1,315.4 551.4,317.3 550,319.4 548.2,321.5 546,323.2 544.4,325.4 542,327.2 539.6,329.1 537.5,331.2 535,330.6 533.8,333.8 531.5,335.4 529.9,337.6 527.8,339.4 525.6,341 522.7,341.5 520,342.5 517.4,344.1 515,345.9 512.5,347.5 509.9,349.5 507.6,351.8 505,353.8 503.4,355.9 501.7,357.9 500,360 498.4,361.7 496.4,363.1 495,365 492.4,365.4 490,366.2 487.6,367.2 485,367.5 483,369.1 481,370.6 478.8,371.9 476.3,373.3 473.8,374.4 471.9,373.4 470,372.5 468,370.8 466.2,368.8 464.9,366.7 463.1,365 462.2,367.5 461.2,370 458.8,368.6 456.2,367.5 453.6,367 451.4,365.5 448.8,365Z"/>
<path id="ontario" class="w" d="M532.5,283.1 534.3,282.4 536.2,281.9 536.6,279 537.5,276.2 538.6,273.4 539.3,270.4 540,267.5 541.8,265.5 543.7,263.7 545.4,261.7 547.5,260 549.1,258.3 550.6,256.5 552.5,255 554.9,253.4 557.4,252.3 560,251.2 562.5,250.6 565.1,250.1 567.6,249.3 569.9,248.1 572.5,247.5 575.1,246.7 577.4,245.2 579.9,244.2 582.6,243.8 585,242.5 588.2,241.6 591.2,240 593.1,237.4 595,235 597.4,232.9 600,231.2 602.5,230.4 605,230 607.5,229.3 610.1,228.6 612.5,227.5 615.1,226.5 617.6,225.3 620,223.8 622.4,222.2 625.1,221.4 627.5,220 626.7,222.6 625.9,225.1 624.8,227.5 623.8,230 625.4,232.1 627.3,234 628.8,236.2 629.4,239.1 630,241.9 631,244.6 631.2,247.5 629.5,249.9 627.7,252.3 626.2,255 624.2,256.4 622,257.3 620,258.8 617.7,261.1 614.9,262.8 612.5,265 610.2,266 608,267.3 606,268.8 603.8,270 600.5,271 597.5,272.5 595,272 592.5,271.5 590,271.1 587.5,270.6 584.4,270.9 581.2,270.9 578.1,271.5 575,271.9 572.4,272.4 570,273.5 567.4,273.9 565,275 562.4,276.9 559.4,278.1 556.9,280 554.6,281.2 552.2,282.4 550,283.8 547.1,283.6 544.2,283.9 541.2,283.8Z"/>
<path id="ocean" class="w" d="M900,100 898.2,101.4 896.1,102.3 894.1,103.4 891.9,104 889.9,105 887.7,106.7 885.5,108.4 883.2,110 880.8,111.2 878.2,111.7 876.9,113.5 874.5,114.1 873.2,115.9 872,117.8 870.8,119.5 869,120.9 866.8,122 865.4,124.1 863.2,125.1 861.2,126.7 859.5,128.5 859.5,130.4 859.6,132.3 860.3,134.1 860.7,135.9 859.5,137.1 859.3,138.8 857.9,139.9 858.2,141.8 856.4,142.2 855,143.1 854.9,145.4 853.2,145.9 852.3,147.5 850.2,148.1 849.8,150.1 847.9,150.4 848,152.7 846.5,153.4 845.1,154.8 843,154.7 841.5,155.9 840.7,157.6 839.8,159.3 839,161 836.8,160.7 835.6,162.6 835,160.7 833,161 831.2,161.4 831.5,163.8 829.8,164.3 830.1,165.9 830.1,167.7 832,168.5 830.3,169.7 831.8,172.4 829.8,173.5 827.8,173.9 826.8,171.4 824.8,171.8 823.8,173.3 823.4,175.1 823.1,176.8 821.8,175.7 820.8,174.4 819.3,173.4 818.3,172.1 818.1,170.2 816.5,169.5 815.1,168.7 814.8,166.8 813.3,168.3 814.7,170.2 813.1,171.7 813.9,173.5 813.1,175.5 813.7,177.1 814.3,178.8 815.6,180.2 814.6,181.7 813.4,183.2 812.7,184.8 813.1,186.9 811.2,187.2 810.8,189.2 808.6,189.1 808.1,191 806.3,191.9 806.8,194.6 804.7,195.2 803.4,196.4 803.1,198.6 800.7,198.7 799.7,200.2 798.4,201.7 796.4,201.8 794.7,202.7 794.1,201.4 793,200.5 792.5,202.3 792.4,204.2 790.4,205.2 789.7,206.9 790.7,208.5 791.4,210.2 789.9,211.5 790.7,214.1 789,215.3 788,216.9 788.6,218.9 786.5,220.1 787.1,222.1 786.8,223.9 785.5,225.3 783.9,227 786,229.3 784.5,231 782.9,232.7 784.8,235 783.5,236.7 784.3,240 782.7,245.9 783.2,247.7 784.4,249.2 785.2,250.9 787.7,251.4 790.2,251.7 790.5,253.4 791,255.1 789.1,256.9 786.9,258.4 785.8,260.8 785.2,263.4 784.1,265.8 783.5,268.4 784.3,269.6 785.2,270.9 786.9,270.8 788.5,270.1 790,271.6 791.9,272.9 793.5,274.3 794.8,275.8 796,277.5 796.9,279.3 797.9,281.5 799.4,283.4 801,284.6 802.4,286 803.6,287.6 806,288.7 808.6,289.3 811.1,288.3 813.6,287.6 815.4,285.6 816.9,283.4 816.4,280.9 816.1,278.4 814.5,276.6 812.7,275.1 810.7,275.6 808.6,275.9 807.7,274.3 809.4,273.8 811.1,273.1 813.2,274 815.2,275.1 815.9,276.9 817.1,278.4 817.8,280.1 818.3,282.4 819.4,284.5 819.9,286.8 820.3,289.3 820.4,291.8 820.6,294.3 819.4,293.5 818.5,291.4 817.8,289.3 815.8,290.8 813.6,291.8 811.8,292.7 810.1,293.7 808.6,295.1 806.8,296.1 805.4,297.6 803.6,298.5 802,300.2 800.2,301.8 798.6,303 797.2,304.4 796,306 796.9,303.5 797.7,301.1 799.2,299.1 800.2,296.8 800.4,294.7 801,292.6 798.5,293.5 797.4,295.9 796.9,298.5 795.1,299 793.5,300.1 791.8,301.8 790,303.5 785.2,307.7 784.6,303.5 783.8,306.5 781.9,310.2 778.5,312.7 772.7,316 770.6,317 768.8,318.2 766.8,319.4 764.2,319.8 761.8,321 759.5,321.6 757.4,322.8 755.1,323.5 753,324.7 750.5,324.9 748.4,326 746.2,326.7 743.9,326.9 741.8,327.7 740.2,329.9 738.4,331.9 735.8,333.4 733.4,335.2 731.3,336.9 729.2,338.6 726.9,339.9 725,341.9 723.9,343.5 722.6,345 722.4,348 722.3,351 723.5,349.4 724.3,347.6 726.3,346.2 728.5,345.1 731,344.2 733.5,343.4 736.1,342.3 738.5,340.9 740.7,340 742.9,339.7 745.2,339.2 747.3,337.9 749.6,336.9 751.9,335.9 754.2,334 756.9,332.5 758.5,330.4 760.2,328.4 762.7,326.7 763.7,328.6 765.2,330 767.6,329.3 770.2,329.2 772.4,328.6 774.4,327.5 774.4,328.6 772.4,330.2 770.4,331.6 768.6,333.4 767.1,335.2 765.4,336.9 763.6,338.4 761.4,340.4 759.2,342.3 756.9,344.2 754.5,345.7 752.5,347.7 750.2,349.2 748,350.8 745.9,352.7 743.5,354.2 741.4,355.6 738.9,356.2 736.8,357.6 734.6,358.4 732.3,359.1 730.2,360.1 727.9,360.8 725.7,361.7 723.5,362.6 721,363 718.5,363.4 716.8,361.8 716.9,364.2 717.6,366.6 716,367.8 714.3,368.6 716.2,369 718,369.6 719.7,368.4 721,366.8 722,368.9 722.6,371.1 723.1,373.4 723.2,376.1 723.7,378.8 723.9,381.4 724.1,384.1 724.3,386.8 724.3,389.6 724.8,392.4 724.8,395.2 724.3,397.7 724,400.2 724.1,402.7 723.5,405.2 722.7,408 722.1,410.8 721,413.5 719.9,415.7 718.8,418 717.6,420.2 716.8,422.6 715.5,424.7 714.3,426.9 713.5,429.1 713.3,431.4 712.6,433.6 711.4,435.3 710.1,436.9 708.3,435.5 708.3,432.9 707.9,430.2 707.7,427.6 705.6,427.2 703.5,426.7 701.3,426.3 699,425.9 696.9,425.1 695.4,423.5 693.4,422.4 691.8,420.9 690.8,418.9 689.6,417 688.5,415 687.7,412.5 686.7,410 686.3,407.5 686,405 685.1,407.9 684.5,411 684.3,413.4 684.6,415.2 685.1,416.9 687,419.2 688.5,421.7 689.8,423.8 691.1,425.8 692.3,428 693.5,430.1 694.9,432.2 697,433.8 698.5,435.9 700.5,437.8 702.6,439.7 704.4,441.8 705.5,443.8 706.5,445.9 707.6,447.9 708.5,450.1 708.9,452.7 709.5,455.2 709.6,457.8 709.4,459.6 709.4,461.4 710,463.2 710.4,465 710.2,466.8 710.4,469.1 709.8,471.3 709.4,473.5 708.5,475.2 708,477 706.9,478.5 706.5,480.3 705.7,481.9 705.1,483.6 704.1,485.2 703.5,486.9 703.5,488.9 703.3,491 702,492.8 702.4,494.9 701.9,496.9 701.2,498.8 701.6,501 700.6,502.9 700.8,504.9 700.2,506.9 699.2,508.9 699.9,511.2 698.5,513 698.5,515.2 696.8,517 696,519.4 695.1,517.8 693.5,516.9 693.1,514.6 692.4,512.4 691.5,510.2 692.1,508.1 692.1,506.1 691.8,504 691.8,501.9 692.3,499.8 692.4,497.6 692.9,495.6 693.5,493.5 693.8,491.3 695.1,489.4 694.9,487.1 696,485.2 696.7,484.1 696.9,482.7 695.4,484 693.5,484.3 692.4,483.6 691,483.5 690,481.9 689.9,479.9 688.5,478.5 688.1,476.4 687.2,474.5 686,472.7 684.2,470.9 683.5,468.5 682,470.3 680.2,471.8 678.5,470.4 677.2,468.6 676,466.8 675.1,465.3 674.3,463.6 674.3,461.8 676,460 674.5,459.1 673.8,457.5 673.9,455.8 674.3,454.1 675,452.5 673.7,451.3 672.1,450.7 670.6,450 670.8,448.2 671.7,446.6 672.5,445 672.7,443.1 673.3,441.3 673.1,439.4 672.1,438.4 670.6,438.1 669.9,435.8 668.8,433.8 669.7,432.1 670.4,430.4 671.2,428.8 672.3,427.1 672.6,425.2 674,423.8 673.6,422.1 673.4,420.4 673.8,418.8 673.5,418.4 671.2,418.8 670.7,421.3 670,423.8 668.6,425.1 667.2,426.4 666.2,428.1 664.8,429.9 663.8,431.9 662.2,434.1 660,435.6 661.9,436.1 663.8,436.9 664.3,438.7 664.3,440.6 664.4,442.5 664.1,444.6 664.4,446.7 663.8,448.8 664,450.8 663.9,452.9 664.4,455 665.6,457.4 666.2,460 667,461.9 668.1,463.5 669.4,465 670,466.9 671.4,468.4 672.5,470 672.8,471.9 674.2,473.3 674.5,475.2 675.4,477.6 676,480.2 676.5,481.7 676.8,483.2 675.1,482.2 673,482 671.2,481.1 669.4,480.5 667.7,479.8 666.2,478.5 664.2,477.9 662.1,478.3 660,477.8 657.4,477 655,475.8 653.9,474.4 653.1,472.9 651.2,471.7 649.6,473.7 648.1,475.8 647,475.8 646.5,477 648.6,478 649.7,476 651.5,474.5 653,475.2 653.9,476.8 655,478.2 657.5,479.2 660,480 662.1,479.8 664.2,480.4 666.2,480.8 668,481.5 669.7,482.3 671.2,483.4 673.5,483.8 675.5,485 677.6,485.6 679.3,487.6 680.1,490 678,491.5 676.2,492.8 674.1,493.7 672,494.5 670.3,493.7 668.5,493 666.7,492.9 665,492.5 666.3,494 668,495 669.6,496.2 671.5,497 673.5,497.1 675.5,496.5 677.5,498.1 679.3,500 680.6,502.1 681.1,504.4 681.8,506.7 680.4,507.4 679.3,508.4 677.7,510 676.7,512 676.1,514.6 675,517 676.8,515.2 678,513 679.4,511.6 681,510.5 682.6,512 684.3,513.4 683.3,515.5 683.4,517.9 682.6,520.1 680.6,520.4 678.5,520.5 676.5,520 674.5,520.2 672.5,520 671,520.3 670,521.5 672.3,523 674,525 675.5,526.1 677.2,526.9 679,527.5 680.6,529.2 682,531 683.9,530.5 685.5,529.5 686.8,528.4 689.1,528.4 691.4,528.4 693.7,528.3 696,527.6 696.5,529.6 697.9,531.2 698.7,533.1 699.3,535.1 700.1,537.3 701.6,539.2 702.5,541.4 703.5,543.5 704.6,545.4 705.2,547.6 706.3,549.6 707.7,551.4 708.5,553.5 709.6,555.5 711.2,557.2 711.6,559.5 713.2,561.2 713.9,563.4 715.2,565.2 716.1,567.1 717.7,568.5 719.3,570 720.2,571.9 721.1,574.1 722.7,575.8 722.9,578.3 724.3,580.2 724.7,582.3 724.9,584.4 725.1,586.6 726,588.6 726.5,590.9 726.2,593.2 725.7,595.4 725.9,597.7 726,600 900,600Z"/>
<path id="albemarle" class="w" d="M684.3,573.2 690.1,571.5 696.8,568.5 701.8,567.5 704.3,570.2 707,566.3 713,569 713,568.5 714.3,571.9 715.2,578.5 712.7,583.6 709.3,588.6 707.6,595.3 707.6,602 726,602 726,588.6 724.3,580.2 720.2,571.9 715.2,565.2 708.5,553.5 703.5,543.5 701.5,543.8 699.5,545.5 703,549.5 707.5,557.5 710.8,563.2 706.8,561.8 703.5,558.5 700.1,559.3 695.1,562.7 690.1,566.9 685.9,567.7 683.4,571.8Z"/>
<path fill="#fff" d="M884.7,30 892,30 892,43.2 885.4,37.4Z"/>
<path id="isleroyale" fill="#fff5f0" stroke="#000" stroke-width="1.55" stroke-linejoin="round" d="M263.2,119.6 266,115.5 272,110.5 278,106 283.6,103.2 284,104.6 279.5,108.8 273.5,113.5 268.5,117.8 264.5,120.6Z"/>
<path id="michipicoten" fill="#f2f2f2" stroke="#000" stroke-width="1.55" stroke-linejoin="round" d="M347.6,116.4 350.5,114.2 355,113.8 356.6,115 353.5,117 349,117.5Z"/>
<path id="beaver" fill="#fff5f0" stroke="#000" stroke-width="1.55" stroke-linejoin="round" d="M366.8,199.8 368.6,200 369,206.5 367,207.8 365.8,206 366,202.5Z"/>
<path id="boisblanc" fill="#fff5f0" stroke="#000" stroke-width="1.55" stroke-linejoin="round" d="M390.5,190.5 393.5,190.8 397.5,193.5 398.4,196 395.5,197 392,194.5Z"/>
<path id="manitoulin" fill="#f2f2f2" stroke="#000" stroke-width="1.55" stroke-linejoin="round" d="M422.6,184.3 428.5,183.4 436.8,182.6 441,185.3 445.2,185.1 450.2,180.1 456.9,181.8 461,176.8 468.5,177.6 469.9,180.1 468.5,188.5 467.7,199.3 463.5,196.8 456.9,194.3 445.2,190.1 435.1,190.1 425.1,187.6 422.6,186.8Z"/>
<path id="drummond" fill="#fff5f0" stroke="#000" stroke-width="1.55" stroke-linejoin="round" d="M404.2,180.1 411.8,180.1 420.1,181.8 421.6,186 418.4,186.3 410.1,185.5 404,186.3Z"/>
<path id="stjoseph" fill="#f2f2f2" stroke="#000" stroke-width="1.55" stroke-linejoin="round" d="M404.5,172.8 409,173 411,176 408,178 404.8,177Z"/>
<path id="mv" fill="#fca486" stroke="#000" stroke-width="1.55" stroke-linejoin="round" d="M801.6,307.9 804.8,301.6 809.8,303.5 810.4,305.4 806,307.2Z"/>
<path id="nantucket" fill="#fca486" stroke="#000" stroke-width="1.55" stroke-linejoin="round" d="M814.8,306 818.5,304.8 821,300.5 822.3,301.7 824.5,304.8 822.3,307.5 818.5,307.9Z"/>
<path id="campobello" fill="#f2f2f2" stroke="#000" stroke-width="1.55" stroke-linejoin="round" d="M864.2,136.2 866.3,135.2 868.5,139.5 870.3,144.5 867,145.3 864.8,143.5Z"/>
<path id="mdi" fill="#820014" stroke="#000" stroke-width="1.55" stroke-linejoin="round" d="M819,178.5 821.5,177 823.2,180.5 821.5,184.2 819.3,182.5Z"/>
<path id="mdi2" fill="#820014" stroke="#000" stroke-width="1.55" stroke-linejoin="round" d="M825.5,177.5 828.5,177 829,181.5 826.5,182.3 825.2,180Z"/>
<path id="mdi3" fill="#820014" stroke="#000" stroke-width="1.55" stroke-linejoin="round" d="M830,172.5 833,171 834,175 832,177.5 830,176Z"/>
<path id="mdi4" fill="#820014" stroke="#000" stroke-width="1.55" stroke-linejoin="round" d="M826,166.5 829,165 831,168.5 829.5,172 826.5,171Z"/>
<path id="mdi5" fill="#820014" stroke="#000" stroke-width="1.55" stroke-linejoin="round" d="M816.5,170 818.5,169.5 819.5,173.5 817.5,175Z"/>
<path id="staten" fill="#fb7f5f" stroke="#000" stroke-width="1.55" stroke-linejoin="round" d="M713.4,361.8 716.8,361.8 717.6,366.6 714.3,368.2 713,365Z"/>
<path id="apostle1" fill="#fb7f5f" stroke="#000" stroke-width="1.55" stroke-linejoin="round" d="M229.8,159.8 232.6,159.5 232.9,161.4 230,161.9Z"/>
<path id="apostle2" fill="#fb7f5f" stroke="#000" stroke-width="1.55" stroke-linejoin="round" d="M234.4,153.8 235.9,153.8 236,157.2 234.4,157.4Z"/>
<path id="washington" fill="#fb7f5f" stroke="#000" stroke-width="1.55" stroke-linejoin="round" d="M331.8,217 334.5,216.8 334.5,220.5 332.5,221 331.5,219Z"/>
<path id="manitouN" fill="#fff5f0" stroke="#000" stroke-width="1.55" stroke-linejoin="round" d="M356.8,227 358.3,227 358.5,229.5 357,229.5Z"/>
<path id="pelee" fill="#f2f2f2" stroke="#000" stroke-width="1.55" stroke-linejoin="round" d="M466.3,356 467.7,356 467.9,360.4 466.4,360.6Z"/>
<path class="b" d="M59.5,77 59.5,79.1 60.1,81.1 61.4,82.9 61.2,85 61.5,86.9 61.4,88.8 61.4,90.6 60.7,92.5 62.2,94.3 61.4,96.3 61.9,98.1 61.8,100 62.1,101.8 62.8,103.5 62.4,105.4 63.4,107.1 63.3,108.9 64.2,110.6 63.8,112.5 63.5,114.5 64.6,116.2 65.1,118.1 65.1,120.1 65.9,121.8 65.6,123.9 67.3,125.5 67,127.5 66.9,129.6 67.9,131.5 67.8,133.6 68.1,135.7 69.2,137.5 68.5,139.3 70,141 69.2,142.9 70.3,144.6 70.3,146.4 70.5,148.2 70,150 70.2,152 70.6,154 69.1,156 69.9,158 69.5,160 69.4,162.1 70.1,164 71,165.9 71.2,167.9 71.2,170 71.8,172 71.5,174 72.4,175.9 72,178 72.5,180 72.3,182.1 72.7,184.1 74,185.9 74.2,188 74.5,190 74.8,192 75.3,194 75.5,196 75.5,198 74.6,199.7 76.1,201.5 75.8,203.3 74.9,205 75,206.8 75.5,208.6 75.1,210.3 74.2,212 74.5,213.8 72.7,214.5 72,216.4 70.9,217.8 68.9,218.3 68,220 68.6,222 69.6,223.8 70.7,225.5 71.2,227.5 73.1,228.6 74.8,229.7 76.1,231.6 78,232.5 78,311.4 M78,311.4 221.8,308.2 M192.5,170.6 190.6,171.2 189.5,173.3 187.5,173.8 188.1,198.8 186.8,199.7 185.6,200.9 185,202.5 183.7,204.1 181.3,204 180,205.6 178.4,207.1 177.6,209.1 176.4,210.9 175,212.5 174.4,214.3 174.5,216.3 173.9,218.1 173.8,220 174.6,221.6 176.3,222.6 176.4,224.7 177.5,226.2 178.8,227.5 177.6,229.3 177.4,231.4 177,233.4 176.4,235.4 176.2,237.5 176.9,239.3 176.6,241.2 176.1,243.2 176.2,245.1 177.8,246.8 176.6,248.8 177.1,250.6 177.5,252.5 178.6,254.2 180,255.7 180,258 181.8,259.3 182.5,261.2 183.9,262.4 185.9,262.7 186.9,264.3 188.6,265.1 190,266.2 191.8,267 193.6,267.9 195.4,268.7 196.3,270.9 198.2,271.6 200,272.5 201.7,273.6 201.9,275.6 202.7,277.2 204.4,278.2 205,280 206,281.6 207.5,282.6 209.2,283.3 210.2,284.9 212.4,285 214,285.8 215,287.5 216.2,288.9 217.4,290.2 217.4,292.4 219.5,293.2 220,295 220.5,296.9 219.9,298.9 221.5,300.6 221.7,302.5 221.2,304.5 221.7,306.3 221.8,308.2 M221.8,308.2 222.6,310.1 223.7,311.9 224.8,313.6 225.9,315.4 226.2,317.5 225.7,319.4 224.8,321.2 224.2,323.1 223.8,325 224,326.9 224.9,328.5 226.1,330.1 226.3,332 226,334.1 227.1,335.7 227.5,337.5 240,349 M240,349 319.5,344.2 M237.5,175.6 240.2,177.3 242.5,179.4 243.9,181.4 244.4,183.8 247.3,184.9 250,186.2 252.9,186.8 255.6,188 258.5,188.5 261.2,189.4 264.2,189.8 267,191 270,191.2 272.3,191.8 274.5,192.9 276.7,193.7 278.8,195 281.3,195 283.7,195.9 286.2,196.2 288.7,196.3 291.1,196.9 293.6,197 296,197.5 297.2,198.9 298.8,200 299.8,202.4 300,205 302.1,205.8 304.4,206.2 306.2,207.5 307.3,209.9 308.4,212.3 308.8,215 308.3,217.5 307.5,220 309.9,222 312.5,223.8 313.1,226 313.4,228.2 313.8,230.5 314.2,232.2 315,233.8 M30,206.3 75,206.8 M30,338.8 55,338.8 57,339.7 58.8,341.2 61,341.9 62.9,342.9 65,343.8 67.1,345 69.3,346 71.2,347.5 72.7,349.6 74.3,351.4 76.2,353 M78,311.4 75.9,311.7 73.8,312 74.4,313.8 74.2,315.8 75,317.5 75.7,319.4 76.3,321.2 77.6,322.9 77.5,325 77.4,327.1 76.7,329 76.4,331 76.5,333.1 75.5,335 75.3,337.1 74.8,339.1 73.4,340.8 73.2,342.9 73,345 73.1,346.8 75,347.9 75.3,349.6 75.5,351.4 76.2,353 M76.2,353 77.2,354.7 77.6,356.8 79,358.3 80,360 79.9,362.1 80.9,364 80.7,366.2 82.2,367.9 82.5,370 82.7,371.7 83.3,373.3 83.8,375 84.5,376.7 85.7,378.2 85.8,380.2 86.6,381.9 87.7,383.4 88.8,385 88.9,387 90,388.9 89.1,391.1 90,393 90,395 91.2,396.4 91.7,398.2 92.2,399.9 93.1,401.4 93.2,403.3 93.8,405 93.4,406.9 94,408.8 94.6,410.6 94.8,412.5 94.3,414.4 94.7,416.3 95.2,418.1 95.5,420 95.7,422 94.4,423.9 94.6,426 94.2,427.9 94.5,430 95.9,431.4 96.5,433.2 97.7,434.6 98.8,436.2 M98.8,436.2 142.5,435.8 180,433.8 213.8,431.5 218,436 222.5,441.2 M98.8,436.2 99.5,437.9 100.2,439.6 101,441.3 100.1,443.4 101.2,445 102.5,446.6 103.9,448.1 104.7,450 105.2,452 106.2,453.8 106.7,455.6 108.2,457 109.2,458.6 109.5,460.5 M30,460.5 109.5,460.5 M109.5,460.5 110.5,462.1 112,463.1 113.5,464 115,465 117,466 119.1,466.2 121.2,466.2 121.4,468.1 122.8,469.4 123,471.2 121.1,471.9 120.1,473.6 118.8,474.9 117.5,476.2 117.4,477.9 117.5,479.6 117,481.2 117.9,483.2 120.3,483.9 121.2,485.9 122.5,487.5 123.9,488.8 123.8,491 124.8,492.5 126.2,493.8 128.3,494.1 129.6,496.2 131.8,496.5 133,600 M30,587.5 132.9,588 M240,349 241.2,350.4 241.9,352.3 243.9,353.1 244.8,354.9 245.7,356.5 247.5,357.5 249.3,358.2 249.8,360.2 250.9,361.6 252.1,362.9 253.7,363.9 255,365 255.9,366.9 255.8,369 256.5,370.9 255.5,373.1 256.2,375 255.8,376.9 255.2,378.7 254.6,380.6 254.1,382.4 253.2,384.1 252.6,385.9 251.2,387.5 249.7,388.9 247.9,389.7 245.7,390 244.5,392 242.5,392.5 240.9,393.5 239.1,394.1 237.4,394.8 235.3,394.5 233.8,395.7 232,396.2 231.7,398.1 231.5,400.1 230.2,401.8 230.5,403.8 231.7,405.3 232.8,406.8 233.8,408.5 235,410 234.6,411.7 234.5,413.5 234,415.2 234.5,417 234.5,418.8 233.9,420.5 233.2,422.2 232.2,423.7 231.9,425.6 231.3,427.3 230,428.8 228.8,430.3 226.9,430.6 225.5,431.8 223.8,432.5 223.1,434.2 223.3,436 223.1,437.8 222.7,439.5 222.5,441.2 M222.5,441.2 222.6,443.4 221.7,445.4 221.2,447.5 222.2,449.4 221.7,451.5 221.3,453.6 221.7,455.6 222.5,457.5 223.4,459.4 223.9,461.5 224.9,463.3 226.2,465 227.8,466.1 229.2,467.4 230.4,469 231.2,470.8 232.3,472.3 234.2,473.2 235,475 235.7,476.9 236.9,478.6 238.1,480.2 239,482 240,483.8 241.7,484.7 242.4,486.5 243.2,488.2 245,489 246.1,490.6 245.8,492.6 246.7,494.2 246.7,496.1 247.8,497.7 247.8,499.6 248.8,501.2 250.8,500.8 252.8,500.1 255,500 256.8,500.3 258.4,501.1 259.8,502.5 261.8,502.3 263.4,503 265,503.8 264.9,505.7 264.6,507.6 263.2,509.3 263.9,511.4 262.9,513.1 262.5,515 261.6,516.6 261.5,518.4 260.2,519.8 259.6,521.5 259.1,523.2 258.8,525 260.1,526.4 259.6,528.5 260.1,530.2 260.7,531.9 262,533.3 262.5,535 264.1,535.8 265.7,536.8 266.6,538.5 267.9,539.7 270,539.9 271.1,541.5 272.5,542.5 274.1,543.4 275.8,544.1 276.5,546.2 278.3,546.7 279.9,547.6 281.2,548.8 282.6,550.4 284.2,551.7 286.2,552.5 286,554.3 286,556.1 287.4,557.8 286.6,559.7 287.3,561.4 287.6,563.2 287.5,565 288,566.9 288.1,569 289.8,570.5 290.4,572.4 290.9,574.3 291.2,576.2 292.5,578.1 295,578.2 296.2,580 M296.2,580 297.7,582.6 299.5,585 299.2,587.5 299.9,590 300.2,592.5 299.9,595 300.2,597.5 300,600 M296.2,580 297.1,578.4 297.6,576.6 298.8,575.2 300.2,574 301.2,572.5 303.4,572.5 305.4,571.6 307.5,571.2 309.4,572.2 311.5,572.7 313.1,574 315,575 316.6,574.3 318.4,574.6 320,573.8 319.6,572 319.7,570.2 318.6,568.6 318.5,566.8 318.8,565 319.5,563.3 320.5,561.7 321.2,560 323.1,559.3 324.8,558 327.1,558.6 328.8,557.5 329,555.5 328.2,553.7 328.1,551.8 327.5,550 328.2,548.5 328.2,546.7 329.7,545.4 330,543.8 330,541.7 331.2,540 M331,377.5 338.8,477 338.7,478.7 338.7,480.5 338.3,482.1 337.5,483.8 338.9,485.2 339.4,487.1 339.2,489.2 340.4,490.8 341.2,492.5 342,494.4 342.3,496.4 342.1,498.5 342.4,500.5 342.5,502.5 341.2,503.9 341.3,505.9 340,507.3 339.3,508.9 339.4,510.8 338.8,512.5 338.1,514.3 337.6,516.1 336.1,517.4 334.9,518.9 334.5,520.8 333.8,522.5 333.5,524.4 331.9,525.6 331.2,527.3 330.5,529 331.1,530.8 330.4,532.7 330.1,534.5 330.4,536.4 330.4,538.2 331.2,540 M331.2,540 333.2,539.8 334.8,538.7 336.2,537.5 337.8,538.6 339.4,539.5 341.2,540 342.9,539.1 344,537.7 345,536.2 346.8,537 349,536.8 350.4,538.7 352.5,538.8 354.5,539 356,540 357.5,541.2 358.4,539.5 360.2,538.3 360.7,536.1 362.5,535 364,534.3 365.5,533.5 367,532.7 368.8,532.5 369.9,534 370.1,536 371.2,537.5 371.4,535.6 373.2,534.4 372.9,532.4 374.4,531.1 374.7,529.3 375,527.5 376.4,525.9 378.5,525.2 380,523.8 381.4,525.3 382.6,527 383.8,528.8 385.7,529.8 387.9,529.5 390,530 390.8,528.1 390.3,525.8 391.8,524.1 392.3,522.1 392.5,520 393.6,518.5 395.1,517.6 396.7,516.7 397.5,515 397.8,513 399,511.3 399.4,509.4 400,507.5 400.7,505.8 401.4,504 402.3,502.3 402.7,500.4 403.8,498.8 405.2,497.8 406.9,497.5 408.4,496.8 410,496.2 411.3,495 413,494.7 414.5,493.9 416.2,493.8 417.7,492.6 419.8,492.4 421.2,491.2 420,489.4 420.3,487.2 419.6,485.3 419.1,483.3 418.8,481.2 418.5,479.8 419.5,478.8 M350,373.5 407,367.7 M407,367.7 420,367.3 445,363.6 M407,367.7 419.5,478.8 M419.5,478.8 421.2,478.8 422.9,478.3 424.6,478 426.2,478.8 427.9,478.2 429.8,478.6 431.2,477.5 432.1,479.1 433.4,480.4 434.4,481.9 435.7,483.1 436.2,485 437.5,486.2 439.3,487.3 441.5,487.6 442.9,489.6 445,490 446.7,490.4 448.3,490.4 450,490 452,490.2 453.6,491.8 455.7,491.7 457.5,492.5 459.4,492.6 461.2,493.6 463.2,493 465,493.8 467.1,493.8 468.5,491.8 470.5,491.5 472.5,491.2 474.3,490.2 475.7,488.6 477.5,487.5 478.5,489 480,490.2 479.7,492.6 481.2,493.8 482.5,495.4 484,496.7 486.3,497.1 487.5,498.8 488.7,499.5 490,500 M510.8,534.5 510,536.7 508.7,538.6 507,540.3 506.2,542.5 504.4,544.4 502.4,546.1 500.4,547.9 498.8,550 496.9,551.9 495,553.8 493,555.5 491.2,557.5 489.7,560.1 487.7,562.4 486.2,565 484,566.8 482.2,569.1 479.4,570.3 477.5,572.5 475.5,574.4 473.1,575.8 470.8,577.3 468.6,579 466.2,580.5 M332,600 332.3,592.5 339,592.6 400,587.3 450,583 466.2,580.5 M466.2,580.5 500,577 527.5,572.5 562.5,567.5 600,561.2 640,556 682,547.2 703.5,542.6 M528,572.5 528,575 527.8,577.5 527.5,580 526.4,582.6 525,585 523.8,587.5 522.4,589.5 521.1,591.6 520,593.8 519.5,595.9 518.7,597.9 518,600 M490,500 491.2,498.5 492.7,497.1 493.4,495.2 494.5,493.6 496.2,492.5 496.5,490.4 496.9,488.4 498.2,486.6 499,484.7 498.8,482.5 498.3,480.5 499,478.7 499.6,476.9 500,475 502,473.9 503.1,471.9 504.7,472.3 506.4,472.5 508.1,472.5 508.7,470.9 508.6,469.1 509.4,467.5 510,465.4 509.7,463.3 510,461.2 510.7,459.2 513.1,458.4 513.8,456.2 515,455.1 515.5,453.5 516.9,452.5 518.8,452.9 520,454.4 522.2,453.7 523.8,451.9 524.3,449.9 525.8,448.4 526.7,446.5 528.1,445 529,443.5 529.2,441.6 530.3,440.2 531.2,438.8 530.9,437 530.5,435.2 531.7,433.5 531,431.8 531.2,430 530.6,428.2 531.6,426.5 530.9,424.7 531.3,423 531.9,421.2 532.2,419.5 532.2,417.7 532.7,416 532.7,414.2 533.1,412.5 533.6,410.6 532.2,408.8 532,406.9 532.5,405 531.5,403.2 531.5,401.2 530.6,399.4 532,397.6 534.4,398.1 M525.6,341 531.6,380 534.4,398.1 M534.4,398.1 541.9,435 M541.9,435 571.9,430 M571.9,430 610,422.6 677.6,410.1 M677.6,410.1 679.3,405.8 682.7,403.7 686,405 M691.6,335 691.1,337.2 689.6,339.1 689.3,341.4 688.4,343.4 687.3,345.3 686.7,347.4 685.7,349.3 684.8,351.3 684.2,353.4 685.1,356.1 686.7,358.4 686.6,360.6 686.3,362.7 685.7,364.7 685.1,366.8 686.6,368.6 688.2,370.4 690.1,371.8 691.6,373.4 693.3,374.9 694.5,376.8 695.9,378.5 697.5,380.3 699.7,381.4 701.8,382.5 703.4,384.3 702,386.1 701.5,388.4 700.1,390.2 698.6,392.5 696.4,394.3 695.1,396.8 693.3,398.4 691.6,400 690.1,401.8 688.1,403.4 686,405 M544.4,325.4 546.2,336.2 616,323.1 670,313 673,315.5 676.7,320 680.9,326.7 685.1,331.7 691.6,335 M691.6,335 718.5,345.1 M718.5,345.1 718.1,356.7 716.8,361.8 M677.6,410.1 691,461.2 709.6,457.8 M571.9,430 574.8,452.5 575.8,450.4 577.4,448.7 578.6,446.8 580,445 581.2,442.8 583.1,441 584.4,438.8 586.9,439.4 588,436.9 588.9,434.4 590,431.9 592.5,430.6 594.4,433.1 597.2,433.1 600,433.1 600.8,431.4 601.9,430 604.4,428.8 605.8,427.4 607.5,426.2 610,425 611.9,426.5 613.8,428.1 615.6,427.5 617.5,426.9 619.3,427.5 620.6,428.8 621.4,431 622.5,433.1 623.7,435.5 624.4,438.1 M624.4,438.1 624.4,440.9 623.8,443.6 623.1,446.2 606.2,435.6 606.3,439.1 606.9,442.5 606.3,445 605.2,447.4 605,450 603.8,452.4 603.6,455.1 602.5,457.5 600.4,459.8 598.8,462.5 597.3,465.1 595.6,467.5 593.1,465 590.6,466.2 590.4,469.4 590,472.5 589.5,475.1 589,477.6 588.1,480 587.5,482.6 586.2,485 583.8,483.9 581.2,483.1 579.1,481.7 576.9,480.4 575,478.8 574.1,481.9 573.1,485 572.4,487.5 572.2,490 571.9,492.5 570.9,495 569.5,497.4 568.8,500 565,512.5 563.8,523.8 561.7,525.8 559.5,527.9 557.5,530 555.8,531.5 553.8,532.5 551.2,532.9 548.8,533.4 546.2,533.8 536.2,541.2 533.8,540.6 531.2,540 529.2,542.1 526.8,543.9 525,546.2 522.3,545.3 520,543.8 517.8,541.8 515.6,539.8 513.8,537.5 512.2,536.1 510.8,534.5 M510.8,534.5 509.2,533.5 508.2,531.9 506.8,530.8 505.3,529.7 503.8,528.8 502.9,527 501,525.9 500.3,524 498.4,523.1 497.5,521.2 496.3,519.7 495.3,517.9 493.4,516.9 492.5,515 491.9,513.2 490.1,512.2 490,510.1 488.8,508.8 489.5,507.1 489.7,505.3 489.8,503.5 489.2,501.7 490,500 M624.4,438.1 626.2,438.1 628.1,438.1 630.1,438.8 631.9,440 633,441.8 633.8,443.8 635.8,444.8 637.5,446.2 640,447.4 642.5,448.8 644.4,449.3 646.2,450 647.4,449 648.8,448.1 650.6,449.4 651.9,451.2 650.4,452.7 649.4,454.6 649.3,457.3 648.8,460 647.2,461.9 645.6,463.8 644.8,466.2 644.4,468.8 644.6,471.7 645.6,474.4 647,475.8 M696.9,482.7 706.9,478.5 M693.8,175 694.4,177.5 695,180 695.1,182.6 696.2,185 696.6,187.5 697.4,189.9 696.8,192.6 697.5,195 698.3,197.5 698.7,200.1 699.9,202.5 700.6,205 701.2,207.5 702,209.9 701.4,212.6 702.4,215 702.5,217.5 702.9,220.1 704,222.5 705,225 705,228 706.1,230.8 706.2,233.8 708.8,232.5 709.3,235.1 710.6,237.4 711.2,239.9 711.4,242.6 712.5,245 712.9,247.6 713.5,250.1 714.4,252.5 715,255 715.7,257.5 716.2,260 717.1,262.4 716.9,265.1 717.7,267.5 M717.7,267.5 719.4,297.8 M719.4,297.8 722.5,315.2 726.7,331.9 727.6,334.4 722.5,340.2 725,341.9 M740.5,163 740.9,165.4 741.9,167.7 742.5,170 742.9,172.5 742.7,175 742.9,177.5 743.9,180 743.8,182.5 742.9,185 741.6,187.4 741.2,190 739.4,191.5 737.8,193.2 736.2,195 736,197.5 735.1,199.9 735.1,202.5 735,205 735.3,207.6 736,210.1 737.3,212.4 737.5,215 737.2,217.6 736.3,220 735.4,222.4 735,225 734.9,227.5 735.6,230 735.3,232.6 735.9,235 736.2,237.5 737,239.9 737.2,242.5 736.7,245 737.7,247.5 737.5,250 737.6,252.4 737.5,254.9 736.9,257.3 737.3,259.8 737.1,262.2 M748.5,147.8 752.5,162.5 760,185 767.5,207.5 771,216 775,225 779,231.5 783.5,236.7 M737.1,262.2 771.8,255.9 774.3,250.9 778.5,246.7 782.7,245.9 M717.7,267.5 737.1,262.2 M719.4,297.8 737.5,294.3 738.2,295.3 739,294 766.5,288.5 M766.5,288.5 772.7,316 M766.5,288.5 776.8,286 778.5,291.8 781,296.8 783.5,296.8 786.9,297.6 790,303.5"/>
<path class="b" style="stroke-width:1.0" d="M371.5,226 371.8,238 M646.2,450.4 649.4,454.5"/>
<path class="b" style="stroke-width:1.7" d="M490.3,169.3 491.5,173 493.5,174 494,177.5 496.5,178 497,181.5 499.5,183 500.5,186.5 503,188.5 504.5,191.5 507,193 508,196.5 511,197.5 512.5,200.5 515,201.5 516,205 518.5,206.5 520,210 523,212.5 525,216.5 528,219.5 524.5,219 521.5,216.5 518,216 520,220 M462,176 464,174.5 466.5,176 469,174.5 471,176.5 M404,172.5 406.5,175.5 405,178.5 408,179.5 411,177 413.5,179.5 417,178 419.5,180.5 M396.7,163.4 398,166.5 400.5,168 401.5,171.5 403.5,174"/>
<path class="b" style="stroke-width:1.2" d="M590,237.5 595,233.8 600,235 597.5,240 602.5,243.8 607.5,237.5 605,232.5 611.2,230 615,233.8 620,227.5 623.8,225 626.2,220.5 M592.5,239 596,242 600,239.5 M612,234 616,236.5 619,232"/>
<path class="b" style="stroke-width:1.2" d="M111.7,61.4 111.7,50.5"/>
<path class="b" style="stroke-width:1.7" d="M885.4,37.4 888,39.6 892,43.2"/>
<path class="b" style="stroke-width:1.2" d="M226.8,162.6 228.2,164 227.4,165.6 229.4,166.2 M229,163.2 230.6,164.6 M231.6,163 232.8,164.4"/>
<path class="b" style="stroke-width:1.5" d="M889.2,135.6 886.6,141 884.6,148 883.2,154.6 M890.6,138 889.8,150 890,160.5"/>
<path class="b" style="stroke-width:1.2" d="M111.7,50.5 112.1,52.5 112.5,54.5 113.4,56.4 114.8,55 116.1,53.4 116.7,51.4 118.3,50.2 119.9,49 120.9,47.2 122,46.2 123.4,46.4 124.2,48 125,49.7 126.2,48.2 126.3,46.4 126.7,44.7 126.8,42.9 125.3,41.5 125.4,39.7 125,38 124,36.8 123.7,35.2 123,33.8 123.9,34.7 125,35.5 126.3,37.2 126.6,39.1 127.2,41 127.5,43 128.2,45 129.5,46.5 130.9,48 132.1,49.5 132.5,51.4 133.3,53.1 135.2,53.9 135.9,55.6 137.7,56.4 139.8,56.3 141.7,56.7 143.4,58 141.4,58.9 140,60.6 137.9,60.5 135.9,59.7 137.6,60.9 138.1,63 140,64 140.4,65.6 142,66.5 142.6,68 141.7,69.5 141.9,71.3 141.7,73 140.6,71.6 139.2,70.6 137.3,69.6 135.9,68 134.2,68.3 133,69.5 131.7,70.6 130.1,71.6 129.1,73.1 128.4,74.8 127.1,74.7 125.9,74 125.3,71.9 125,69.8 124,68.5 123.3,67.1 122.6,65.7 122.5,64 121,62.9 120,61.4 118.3,61.3 116.7,61.4"/>
<path class="b" style="stroke-width:1.1" d="M126.9,49.7 125.9,50.9 123.7,53.5 125.8,55.2 126.5,56.7 128.9,58.5 131.6,60 133,58.5 131.2,56.5 133.4,54.8 135.6,55.6 M121.5,63.3 120.7,61.7 118.8,61.2 119,59.6 118,57.2 116,58.5 115,57.1 114.5,55.3 114.7,51.9 113.3,51.2 112.9,52.9 M127.9,74.4 126.1,76.7 127.3,74.6 126.9,72.1 124.5,71.3 124.3,69.7 126.8,67.7 129.2,65.8 129,62.7 128.3,60.8 M124,71.7 127,73.7 129.8,71.7 130.8,74.3 129.4,76.2 127.8,75.2 127.1,72.1 129.6,71.2 129.1,69.7 128.8,67.8 129.3,66.1 M126.7,58.1 127.6,60.5 125,61.1 124.8,59.5 128.2,60.1 130.7,60.9 133.8,62.5 134.8,59.8 136,58 139,57.5 141.4,56.6 M131.3,49.7 132.6,50.7 134,53.1 133.7,55.5 135.6,55.6 137.3,56.5 139.8,57.5 137.8,60.1 139,63.1 135.6,64.1 133.3,66.2 M127,56.4 125.1,57 124.2,59.5 126,61.2 124.8,62.2 126.7,64.8 128.2,63.4 130.6,65 132.1,64.2 132.6,62.1 136.1,61.5"/>
<path class="b" style="stroke-width:1.15" d="M163.4,89 165.3,87.8 166.8,87.3 169.2,86.8 170.1,87.9 168.9,90.2 171.8,91.1 170.6,93.3 172.8,93.8 173,92.2 172,91.2 170.3,90.1 171,88 M168.6,87.7 167.4,86.4 170.3,85.2 171.1,83.7 170.6,82.3 169.3,83.3 168.5,81.5 171.1,82.7 170.6,85.1 168.8,85.7 168.2,87 170.2,88 M157.7,89.9 156.3,89 156.7,87.3 154.6,85.8 155.7,84.5 157.6,86.7 158.2,88.7 159.5,88.3 159.7,90.1 160.9,91.1 163.1,90.4 164.3,87.7 167.2,88.8 M169.1,91.9 168.2,89 166.1,90.2 163.4,89.1 160.9,89.6 160.3,86.8 158.9,84.5 158.7,82.5 156.3,82.8 156.9,79.9 156.8,77.2 154.5,77.7 154,78.9"/>
<path class="b" style="stroke-width:1.0" d="M182.7,105.4 182.9,106.8 184.1,106.4 183.2,103.8 184.6,103.5 185.8,102.8 185.4,100.6 184,101 185.2,103.1 185,104.8 186,106.9 187.8,107.1 189.1,106 190.4,105.7 191.8,105.2 192.5,103.4 194.2,104.4 M190.2,103.1 189.9,100.9 192.7,101.3 193.1,103.5 194.9,104.3 197.1,104.9 196.7,106.3 198.2,108.5 200.8,108.9 201.8,110.2 201.6,112.5 204.2,113.1 203.5,115.7 204.3,113.7 202.6,112.6 202.2,110.9 M223.8,106 224.8,105.2 224.6,104.1 222.9,103.3 224.2,103.5 224.8,101.6 226.2,100.7 226.7,101.6 225.4,102.8 226.1,104.1 M228,103.5 225.8,103.5 224,102.8 222.7,104 223.5,105.7 224.7,105.3 224,103.6 223.7,102 225.3,102.8 225,104.1"/>
<path class="b" style="stroke-width:1.0" d="M272,89.9 270.4,89.3 267.9,91.2 267.2,93 264.5,93 264,95.5 262.7,96.7 261.1,96.9 259.9,98.1 262.4,97.9 262.3,95.5 263.9,95.6 M284.6,76.5 285.7,74.9 284.1,74.2 282.7,75.4 283,78 281,78.2 279.7,76.5 282.1,75 284.8,73.5 285.9,71.6 287.8,73.2 287.4,75.2 284.8,74.7 M279.4,78.4 281.2,78.6 282.3,79.9 284.6,79.8 286.7,80.1 287.4,81.9 289.2,81.5 289.3,78.7 286.7,78 284.8,80 282.7,80.4 282.4,77.7 282.5,76.2"/>
<path class="b" style="stroke-width:1.0" d="M419.6,176.2 418,175.4 415.6,176.9 413.8,174.8 410.9,175.4 409.2,175.6 407.2,176.2 408,178.4 409.8,179.9 411.1,178.9 412.9,179.2 M410.2,173.1 412.9,173.6 414.8,174.4 416.3,175 415.4,176.7 416.2,178.4 414.9,179.7 413.5,178.5 412.2,177.8 413.5,175.4 414.1,173.9 M436.5,176.8 438.6,178.3 440,178 440.8,180.9 443,180.9 446,180.7 445.7,179.3 447.7,178.2 449.9,176.7 452.3,176 452.9,174.6 M404.1,176.2 403.6,173.7 403.9,171.8 406.8,172.1 408.4,172.4 409.6,173.8 411.9,174.2 413.1,175.8 414.3,174.7 416.4,176.3 418.2,174.2 M442.1,176.2 441.4,174.9 439,173.7 437.3,173.7 435.1,173.3 434.4,175.5 434.1,177 431.9,178.6 431,181.2 428.9,179.8 427.2,179.3"/>
<path class="b" style="stroke-width:1.0" d="M399.4,169.6 398.2,170.7 399.2,172.6 401.3,173.3 400.6,174.6 401,175.9 402.2,176.7 404.2,177.3 403.6,178.7 406,179.3 406.7,177.9 404.5,177.4 402.1,177 M401.1,175.9 401.8,177 403.4,177.1 405.1,176.2 405.8,178.3 407,178.6 408.1,178.3 407.1,178.9 405.5,179.7 403.4,179.4 402.9,177.3 402,176 M397.3,169.1 397.8,167.8 397.6,165.8 395.2,166.3 396.1,168.1 398.5,167.5 399.7,168.2 401.7,169.3 401.2,171.2 399.6,172.7 398.4,171.4 397.7,169.3 397.3,167.9 M402.7,167 401.6,167.1 401.4,165 402.8,165.1 403.4,166.2 402.1,166.7 401.9,168.4 403,168.9 403.5,167.9 401.8,166.7 402.1,164.5 401.7,162.3 399.4,162.5"/>
<path class="b" style="stroke-width:1.1" d="M523.3,218.6 522.9,217.4 524.8,215.9 523.9,213.8 523.4,211.3 521.5,210.8 520.3,211.4 519.7,209.7 521,209.6 522,211.7 521,212.2 520.2,213.2 519.1,211.9 519.8,209.5 518.6,208 517.2,207.4 517,206 M501.9,186.1 500.2,184.6 498.4,184.4 497.5,183 498.5,182.4 499.3,184.2 500.3,185.2 501.7,185 502.5,186.7 500.9,188.7 499.8,188.3 500.2,187.1 502.6,186.7 503.6,187.7 503.4,189.7 503.8,192.1 505.3,193.5 M501.3,187.3 499.7,186.2 499.4,183.9 498.8,182.2 498.2,180.3 497.7,179.3 495.1,178.6 495,176.8 493.4,175.7 493.2,174.5 492.4,172.1 489.9,172.8 490.7,171.4 490.4,169.4 491.4,168.5 M524,217.4 523.6,218.6 525.3,220.3 526.6,220.2 528.8,219.1 527.6,217.5 526,219 524.8,220.2 524.4,218.5 523.6,216.2 524.3,214.8 526.4,216.2 525.7,218 525.3,219.7 523.6,218.8 524.5,217.7 M497.1,182.1 497.7,180.4 496.2,179.8 495.2,178.7 493.4,178.6 492.9,177.5 492.4,175.6 494.5,175 495.3,177.5 494.5,178.5 496.7,179.4 497.7,178 496.1,177.2 495,179.2 496,180.2 495.6,181.3 494.6,180.5 M501.3,186 501.4,184.9 500.8,183.9 498.3,184.7 496.9,184.7 496,183.4 496.7,181.1 498.8,181 499.7,182.9 498.4,184.1 499.9,185.3 499.1,186.1 497.1,185.2 496.3,182.8 494.9,181.2 494,178.8 492.4,177.8 M507.3,195.4 507.8,196.9 509.7,196.7 509.8,195.5 508.5,194.9 507.8,194 506.4,193.1 504.9,191.8 505.4,190.7 503.5,189.8 501.6,190.5 500.7,189.4 502.6,187.8 503.6,189.1 502.3,190.8 503.2,192.6 504.9,194.4 M514.6,205.9 515.9,205.4 516.1,206.6 517.8,206.3 517.7,204.8 516.7,203.2 515,203.8 513.5,201.7 513.1,199.4 511.9,197.4 510,197.6 510.3,199.6 511.9,199.7 512.6,201.1 514.4,201.5 514.6,202.6 513.4,203.8"/>
<path class="b" style="stroke-width:1.0" d="M479,210.5 477.3,210.7 476,208.7 477.3,208.1 477.6,206 478.9,206.5 479.5,208.2 479.5,210.1 477.7,210.7 475.9,209.9 476.1,207.6 476.3,206.4 475.2,205.8 M484.7,210.7 483.9,208.8 482.9,207.7 481.6,208.4 480.5,207.3 478.4,208.7 477.4,209.2 476.2,209.4 474.6,208.7 474.3,206.6 475.6,206.3 475.6,208.5 476.4,209.3 M488.9,227.3 489.9,226.2 492.1,225.1 493.6,225.7 495.4,225.8 495.9,226.9 494.1,228.2 495.3,229.9 496.1,230.7 496.9,232 496.5,230.6 495.2,228.7 M484.7,212 485.3,213.7 486.5,214.5 486,215.9 484.1,215.2 482,214 481.5,212.9 483.8,212 484.7,211.1 485.5,212.3 483.9,213 482.7,211 481.2,211.4"/>
<path class="b" style="stroke-width:1.0" d="M609.6,232.3 609,230.7 607.4,230.9 606.5,232.4 607,233.7 608.4,234.6 609.4,235.7 610.5,234.6 611.9,233.6 614.3,234.2 615.7,234.1 617.7,233 618.6,230.5 621.1,230.6 621.6,228.5 M593.1,237.1 595.1,236.9 595.1,234.9 595.1,233.1 597.6,232.9 597.9,234.5 599.6,233.8 598.9,231.6 597.5,232.2 598,233.4 598.8,235.6 600.3,234.4 600.5,233.1 598.9,232.4 597.6,232.1 M614.6,235.3 616.7,234.5 616.8,233 617.3,230.6 615.7,230 614.2,229.4 614.9,227.1 616.9,228.1 617.5,229.6 618.3,231.4 618.9,232.5 617.8,233.5 616.1,235.6 613.6,234.5 612,233.5 M612.4,228.7 613.9,231 616.2,232.5 618,231.1 620.1,230 622.4,229 623.7,228.9 624.9,226.8 623.6,225.7 622.8,224 621.1,225 619.1,225.7 617.6,227.6 616,228 614.2,230 M601,234.1 599.6,233.5 599.2,234.8 598.4,236.6 596.7,235.6 595.7,234.9 594.2,235.5 593.7,237.9 593.9,239.4 593.9,240.8 595.9,241.6 596.8,239.4 597,238.1 599,236.2 601.5,236.6 M591.9,236.2 593.1,235.9 594.6,236.8 593.4,237.9 594.9,240.3 596.3,239.2 595.6,237.1 595,235.6 595.2,234.2 597.5,235.1 599.1,233.7 599.1,231.6 601.4,232.3 603,230.8 603.9,232.7 M609.6,235.3 608.6,235.9 607.7,233.8 609.7,232.3 610.6,231.1 612.4,233 613.9,231.4 614.8,230.5 616.7,229.3 617.9,228.2 619.6,229.7 622,229.4 623.3,229.6 624.1,227.2 622.2,225.9"/>
<path class="b" style="stroke-width:1.0" d="M819.1,178.8 820.5,180.3 822.1,179.6 822.3,180.8 824.2,182.6 825.4,183.4 827.9,183 829.2,181.8 830.1,180.9 831.1,180.3 830.5,179 M830.2,169.5 828.9,169.6 829.6,171.7 828.3,172.5 828.3,173.6 827.4,174.9 828.9,176.4 829.6,178.1 831.7,177.8 832,175.3 831.5,174.1 M828,175.8 827.8,173.4 825.3,173.3 825.9,175.4 827.9,176.6 826.6,178 825.4,177.9 824.4,177 823.1,176 821.9,178 823.2,178.8"/>
<path class="b" style="stroke-width:1.0" d="M859.2,129.9 857.6,131.2 857.8,132.1 858.7,133.6 860.3,132.3 860.1,131.1 858,131.7 858.4,133.8 859.1,134.8 859.7,136 860.3,137.1 M861.5,134.2 862.3,132.4 860.9,131.7 861.1,130.5 860.9,129.1 860.5,127.7 859.5,128.3 857.4,127.7 855.9,127.3 854.1,126.5 854,125 M859.7,133 860.3,134.3 858.2,134.7 858.3,132.8 858.3,131.5 860,131.8 860.5,132.7 859.3,134.4 859.5,136 861.1,137.1 861.6,135.3"/>
<path class="b" style="stroke-width:1.0" d="M782,296.3 783.5,295.4 784.5,297 784.7,298.3 786.7,298.8 787.3,300.9 787.4,302.7 787,303.9 785.8,303.2 785.9,301 786.5,300.1 786,299.2 785.5,298.4 M787.9,302.1 786.1,302.5 785.8,301.2 784.7,299.9 783,299.7 781.6,299.3 782.2,297.9 782.2,296.8 783.4,296.7 784.8,296.9 785.7,297.7 785.9,298.7 786.8,300.5 M787.9,301.4 787.6,300.4 786.4,300.6 785.4,302.4 786.3,303.4 787.5,302.4 787.2,301.1 785.9,299.5 785.1,300.4 784.3,301.6 782.4,301.6 781.7,302.7 783.3,303.5 M784.5,303.6 785.5,303.8 785.8,304.7 785.5,306.9 784.2,307 783.1,306.9 782.8,306 781.5,304.8 782.6,303.5 782.9,301.5 783.2,300.3 782.5,299.4 783.6,298.1"/>
<path class="b" style="stroke-width:1.0" d="M768.6,329.5 768.2,330.6 768,331.8 766.8,332.6 765,332.9 762.9,332.3 762,331.3 762.2,329.6 762.1,327.8 763.3,327.2 764,328.8 M765,333.3 763.6,331.6 762.5,331.9 762.2,330.4 760.6,329 761.4,328.3 762.9,327.6 763.8,327.9 764.8,328 765.9,329.1 766,330.8 M768.1,330.2 767,329.9 765.1,329.5 764,328.1 762.7,328 761.5,328.6 760.5,329.8 761.1,330.9 762.5,330.5 762.2,328.8 762.6,327.9"/>
<path class="b" style="stroke-width:1.0" d="M688.8,476.1 687.4,476.2 686.3,475.5 686.2,474.2 687.7,472.5 689.5,472.9 689.5,475.5 691.4,475.7 690.8,477.9 690.7,479.5 689.4,479.2 688.6,476.9 687,477.1 686.9,475.4 688.1,475.3 688,473.2 690.3,473.7 M672.6,453.7 673.9,453.4 676.4,452.7 677.9,454.1 678.3,455.7 677,456.9 675.3,458.6 675.6,460 675.4,461.8 675.9,462.9 676.8,464.3 678.4,465.9 679.9,463.7 682.3,463.3 682.7,465.6 682.3,466.7 683.3,468.4 M676.1,447.7 674.8,445.9 673.8,445.2 672.7,444.8 672.5,442.3 672.6,439.8 671.5,439.4 671.5,438.2 673.5,438.4 674.3,439.3 672.5,440.9 673.4,442 675.1,441.2 674,439.1 673,437.1 670.9,436.8 670.6,434.4 M672.9,432.2 674.1,430 673.2,428.2 671.6,428 672,426.5 672.9,424.9 674.1,426.9 672.3,427.7 671.6,428.7 670.8,431.1 671.1,432.9 671,434.4 673,434.7 672.1,437 673.1,439.1 674.3,440 M674.6,432.8 673.6,435.1 672.7,436.9 671.4,437.4 670.8,436.1 671.8,435.2 674.1,434.4 673.5,432.7 672,433.9 670,435.6 669.7,436.9 671.1,437.9 672.6,438.7 673.4,436.9 672.9,435.1 674.1,433.4 673.3,431.4 M683.8,471.4 685.3,469.9 686.9,468.8 686.3,467.5 683.7,467.7 682.4,469.9 681,469.9 679.2,470.5 677.5,469.2 677.4,467.3 675.6,465.9 675.9,464.6 675.1,463.5 676.6,461.8 677.9,462.1 679.1,461.5 680.8,463.5 M672.7,442.4 673.1,443.5 672.5,444.6 673.9,445.1 675,446.8 673.9,447.6 672.6,446.1 672.1,444.8 673.4,443.1 675.4,442.2 675.8,444.3 675.6,446.9 673.4,447.2 673.6,445.5 675.6,445.8 675.7,443.3 675.4,440.7 M690.3,479.4 692.3,480.3 691.5,482.1 692.4,483.7 694.2,483.8 695.5,481.6 693.3,481.2 692.2,481.8 691.3,480.3 689.8,480.6 689.9,478.9 689.9,477.4 688.6,477.5 688.8,479.3 689.7,481.3 691.6,480.9 691.6,479.4 M671.6,433.6 673.8,432.8 673,430.9 674.3,430.2 675,432.6 674.5,434.3 674.9,435.6 675.4,436.9 675,439.4 675.4,440.6 673,441.6 673.9,443.9 675.2,443 674.5,440.4 675.2,438.3 673.8,436.5 672.5,438.1"/>
<path class="b" style="stroke-width:1.0" d="M662.7,459.4 661.6,457.3 661.6,456.2 663,456.4 664.1,457 664.9,459.1 665.6,461.3 663.6,461.4 663.4,460.3 663.4,458.6 663.3,456.8 663.2,455.6 661.6,456 M660.7,446.1 661.8,446.7 662.9,445 662.3,443.9 662.2,442 661.9,440.5 661.5,438.8 659.7,437.1 659.6,435.2 660.2,433.9 659.6,432.8 660.8,431.3 661.9,430.8 M663.1,461.1 663.2,459 662.1,458.6 662.6,457.1 661.6,455.3 661.9,453.8 661.9,452.3 663.3,451.8 663.5,453.4 663.7,454.5 664,456 662.8,457 663.6,457.9 M669.4,421.5 668.4,420.8 667.3,422.2 667.9,423.4 667.1,424.4 668,426 666.4,427.7 665.8,428.7 664.5,427.8 664,428.9 663.3,430.2 662,430 661,431.2"/>
<path class="b" style="stroke-width:1.1" d="M678.2,495.5 678.1,496.6 676.1,497.5 677.2,499.2 678.3,500.9 680.2,502.3 679.8,504.7 682.2,504.6 682,506.2 680.9,506.4 680.9,504.9 681.1,503.7 680,503.7 M679.5,511.4 678.6,510.3 679.5,509.2 680.7,510.4 681.4,509.5 680,508.7 680.9,507.9 682,507.2 681.1,506.3 680,506.5 679.9,508.9 678,510.1 677.3,511.7 M671.4,491.3 673,492.2 671.6,493.6 670,493 668.3,491.5 667.8,492.5 667.4,493.9 667.4,495.1 668.6,495.4 669.5,496.1 670.4,494.3 670.5,493.2 672.3,493.6 M681.8,506.4 680.6,506.5 680.8,504.8 680,503.8 679.3,501.4 677.9,499.6 678.1,497.8 679.5,496.1 680.3,496.9 681.6,497.6 680.5,499.4 681.7,500.2 681.7,501.5 M674.7,522.3 673,520.7 672.1,519.9 673.4,518.5 675.5,519 677.2,520.8 678.5,518.7 680.9,518.5 681.9,520 683.9,519.5 M670.6,520.8 669.9,519.5 672.2,519.2 673.4,518.1 674.6,519.1 673.4,519.9 672.3,518.8 670.9,519.9 669.9,519.1 M685.9,529.5 684,528.2 683.2,527 684.4,526.3 686.2,525.7 686.4,527.5 686,529.6 684.3,528.8 684.8,526.4 686.5,525.2 685.5,524"/>
<circle cx="463.1" cy="362.5" r="0.8" fill="#000"/>
<circle cx="466.3" cy="365.6" r="0.8" fill="#000"/>
<circle cx="463.8" cy="366.3" r="0.7" fill="#000"/>
<circle cx="486.4" cy="333.4" r="1.0" fill="#000"/>
<circle cx="617" cy="239.3" r="0.9" fill="#000"/>
<circle cx="424" cy="177.5" r="0.7" fill="#000"/>
<circle cx="429" cy="176.5" r="0.7" fill="#000"/>
<circle cx="434" cy="178" r="0.7" fill="#000"/>
<circle cx="440" cy="176.8" r="0.7" fill="#000"/>
<circle cx="446" cy="178.5" r="0.7" fill="#000"/>
<circle cx="452" cy="176.5" r="0.7" fill="#000"/>
<circle cx="457" cy="175.8" r="0.6" fill="#000"/>
<circle cx="473" cy="188" r="0.7" fill="#000"/>
<circle cx="475.5" cy="193" r="0.7" fill="#000"/>
<circle cx="472.5" cy="193.5" r="0.6" fill="#000"/>
<circle cx="385.5" cy="143.5" r="0.8" fill="#000"/>
<circle cx="388" cy="151" r="0.7" fill="#000"/>
<circle cx="386.5" cy="155" r="0.7" fill="#000"/>
<circle cx="355" cy="232.5" r="0.9" fill="#000"/>
<circle cx="317.2" cy="80.9" r="1.2" fill="#000"/>
<circle cx="781" cy="321" r="1.5" fill="#000"/>
<circle cx="822.3" cy="191" r="0.9" fill="#000"/>
<circle cx="812.3" cy="197.7" r="0.8" fill="#000"/>
<circle cx="800.2" cy="309.3" r="0.8" fill="#000"/>
<circle cx="770" cy="318.5" r="0.8" fill="#000"/>
</g>
<rect x="36.5" y="31.3" width="854.95" height="564.8000000000001" fill="none" stroke="#cac9da" stroke-width="2.7"/>
<rect x="58.50" y="662.10" width="73.41" height="26.50" fill="#fff5f0"/>
<rect x="131.61" y="662.10" width="73.41" height="26.50" fill="#fee0d2"/>
<rect x="204.72" y="662.10" width="73.41" height="26.50" fill="#fcc4ad"/>
<rect x="277.83" y="662.10" width="73.41" height="26.50" fill="#fca486"/>
<rect x="350.94" y="662.10" width="73.41" height="26.50" fill="#fb7f5f"/>
<rect x="424.05" y="662.10" width="73.41" height="26.50" fill="#f5593f"/>
<rect x="497.15" y="662.10" width="73.41" height="26.50" fill="#e32f27"/>
<rect x="570.26" y="662.10" width="73.41" height="26.50" fill="#c4171c"/>
<rect x="643.37" y="662.10" width="73.41" height="26.50" fill="#a00f16"/>
<rect x="716.48" y="662.10" width="73.41" height="26.50" fill="#820014"/>
<rect x="789.59" y="662.10" width="73.41" height="26.50" fill="#67000d"/>
<rect x="58.50" y="662.10" width="804.20" height="26.50" fill="none" stroke="#1b2e57" stroke-width="2"/>
<line x1="58.50" y1="688.60" x2="58.50" y2="695.20" stroke="#1b2e57" stroke-width="2"/>
<text class="t" x="56.60" y="715.9" font-size="17.8" letter-spacing="-0.45" text-anchor="middle">0</text>
<line x1="131.61" y1="688.60" x2="131.61" y2="695.20" stroke="#1b2e57" stroke-width="2"/>
<text class="t" x="129.71" y="715.9" font-size="17.8" letter-spacing="-0.45" text-anchor="middle">20</text>
<line x1="204.72" y1="688.60" x2="204.72" y2="695.20" stroke="#1b2e57" stroke-width="2"/>
<text class="t" x="202.82" y="715.9" font-size="17.8" letter-spacing="-0.45" text-anchor="middle">40</text>
<line x1="277.83" y1="688.60" x2="277.83" y2="695.20" stroke="#1b2e57" stroke-width="2"/>
<text class="t" x="275.93" y="715.9" font-size="17.8" letter-spacing="-0.45" text-anchor="middle">60</text>
<line x1="350.94" y1="688.60" x2="350.94" y2="695.20" stroke="#1b2e57" stroke-width="2"/>
<text class="t" x="349.04" y="715.9" font-size="17.8" letter-spacing="-0.45" text-anchor="middle">80</text>
<line x1="424.05" y1="688.60" x2="424.05" y2="695.20" stroke="#1b2e57" stroke-width="2"/>
<text class="t" x="422.15" y="715.9" font-size="17.8" letter-spacing="-0.45" text-anchor="middle">100</text>
<line x1="497.15" y1="688.60" x2="497.15" y2="695.20" stroke="#1b2e57" stroke-width="2"/>
<text class="t" x="495.25" y="715.9" font-size="17.8" letter-spacing="-0.45" text-anchor="middle">120</text>
<line x1="570.26" y1="688.60" x2="570.26" y2="695.20" stroke="#1b2e57" stroke-width="2"/>
<text class="t" x="568.36" y="715.9" font-size="17.8" letter-spacing="-0.45" text-anchor="middle">140</text>
<line x1="643.37" y1="688.60" x2="643.37" y2="695.20" stroke="#1b2e57" stroke-width="2"/>
<text class="t" x="641.47" y="715.9" font-size="17.8" letter-spacing="-0.45" text-anchor="middle">160</text>
<line x1="716.48" y1="688.60" x2="716.48" y2="695.20" stroke="#1b2e57" stroke-width="2"/>
<text class="t" x="714.58" y="715.9" font-size="17.8" letter-spacing="-0.45" text-anchor="middle">180</text>
<line x1="789.59" y1="688.60" x2="789.59" y2="695.20" stroke="#1b2e57" stroke-width="2"/>
<text class="t" x="787.69" y="715.9" font-size="17.8" letter-spacing="-0.45" text-anchor="middle">200</text>
<line x1="862.70" y1="688.60" x2="862.70" y2="695.20" stroke="#1b2e57" stroke-width="2"/>
<text class="t" x="860.80" y="715.9" font-size="17.8" letter-spacing="-0.45" text-anchor="middle">220</text>
<text class="t" x="463.4" y="642.5" font-size="23.4" text-anchor="middle">Cases per 100,000 people:</text>
</svg></body></html>
